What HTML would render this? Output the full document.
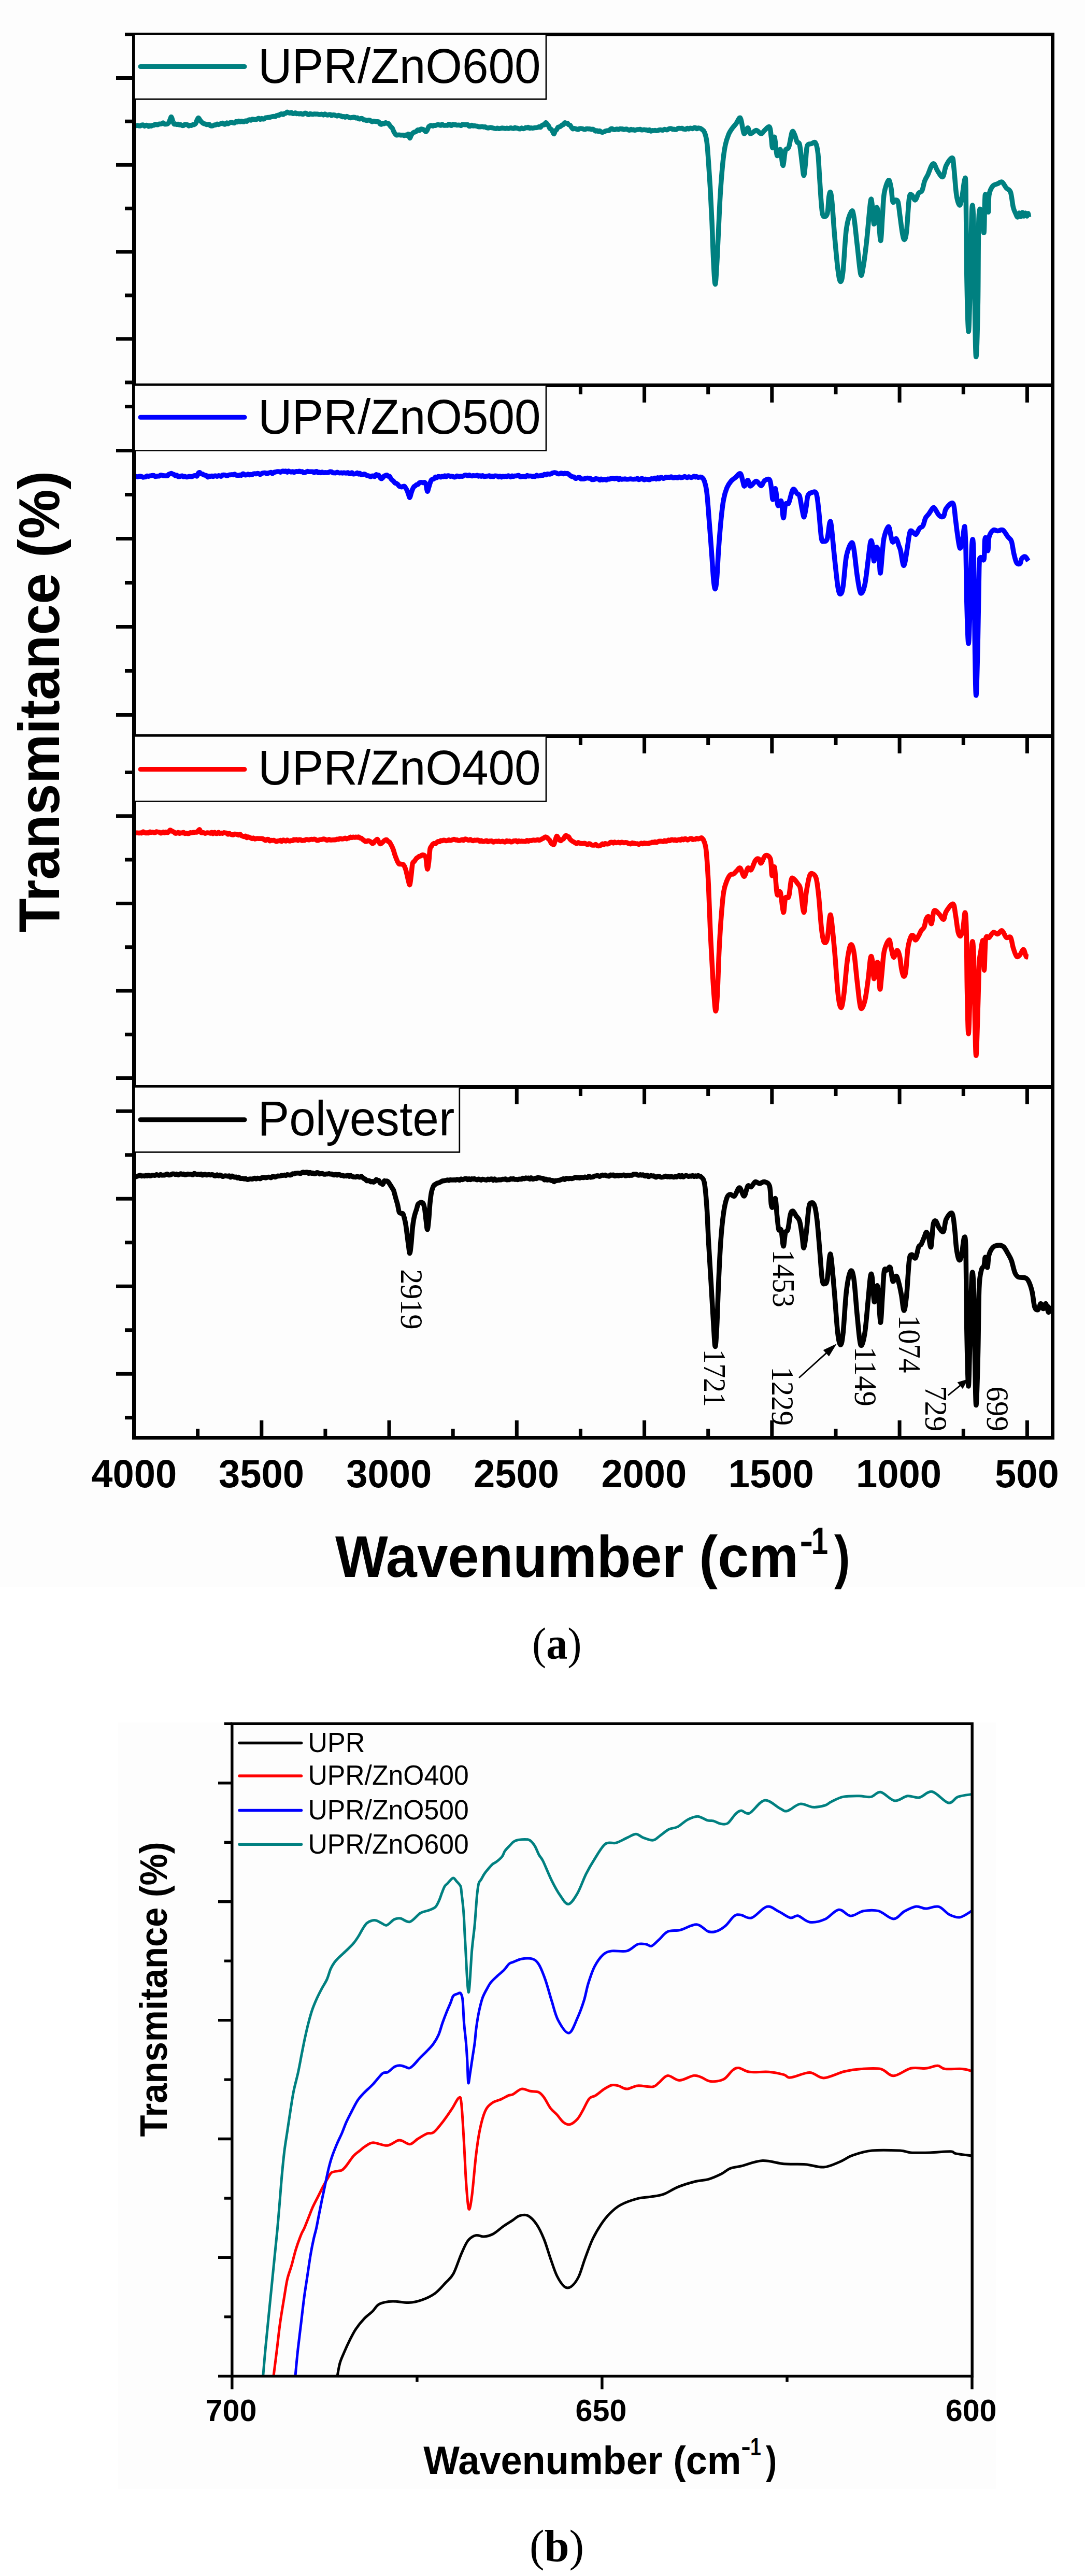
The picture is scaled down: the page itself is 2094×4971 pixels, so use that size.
<!DOCTYPE html>
<html><head><meta charset="utf-8"><title>FTIR spectra</title>
<style>html,body{margin:0;padding:0;background:#fff;}svg{display:block;}</style></head>
<body><svg width="2094" height="4971" viewBox="0 0 2094 4971">
<rect x="0" y="0" width="2094" height="3063" fill="#fdfdfd"/>
<rect x="228" y="3324" width="1694" height="1479" fill="#fdfdfd"/>
<g fill="none" stroke-linejoin="round" stroke-linecap="butt"><path d="M260.5,241.8 C260.9,241.9 262.2,242.6 263.1,242.6 C264.0,242.7 264.8,242.1 265.7,242.1 C266.6,242.2 267.4,242.7 268.3,242.8 C269.2,242.9 270.0,243.1 270.9,242.9 C271.8,242.6 272.6,241.6 273.5,241.3 C274.4,241.0 275.2,240.8 276.1,241.1 C277.0,241.5 277.8,243.3 278.7,243.4 C279.6,243.6 280.4,242.1 281.3,241.8 C282.2,241.5 283.0,241.4 283.9,241.8 C284.8,242.1 285.6,243.8 286.5,243.9 C287.4,244.0 288.2,242.5 289.1,242.4 C290.0,242.3 290.8,243.4 291.7,243.3 C292.6,243.2 293.4,242.0 294.3,241.8 C295.2,241.5 296.0,242.0 296.9,241.7 C297.8,241.4 298.6,240.0 299.5,239.8 C300.4,239.6 301.2,240.4 302.1,240.6 C303.0,240.8 303.8,241.0 304.7,240.7 C305.6,240.5 306.4,239.5 307.3,239.2 C308.2,239.0 309.0,239.4 309.9,239.3 C310.8,239.2 311.6,238.9 312.5,238.6 C313.4,238.2 314.2,237.0 315.1,237.1 C316.0,237.3 316.8,239.1 317.7,239.5 C318.6,239.9 319.4,239.5 320.3,239.5 C321.2,239.4 322.0,239.5 322.9,239.1 C323.8,238.7 324.6,238.4 325.5,237.1 C326.4,235.8 327.2,233.0 328.1,231.1 C329.0,229.2 329.8,225.4 330.7,225.7 C331.6,226.1 332.4,230.9 333.3,233.2 C334.2,235.4 335.0,238.2 335.9,239.2 C336.8,240.2 337.6,239.0 338.5,239.2 C339.4,239.4 340.2,240.3 341.1,240.4 C342.0,240.4 342.8,239.3 343.7,239.4 C344.6,239.5 345.4,240.9 346.3,241.1 C347.2,241.3 348.0,240.4 348.9,240.6 C349.8,240.8 350.6,242.0 351.5,242.3 C352.4,242.6 353.2,242.6 354.1,242.3 C355.0,241.9 355.8,240.5 356.7,240.2 C357.6,239.9 358.4,240.4 359.3,240.5 C360.2,240.6 361.0,240.4 361.9,240.8 C362.8,241.3 363.6,242.9 364.5,243.1 C365.4,243.2 366.2,241.9 367.1,241.7 C368.0,241.6 368.8,242.3 369.7,242.1 C370.6,241.9 371.4,240.8 372.3,240.6 C373.2,240.3 374.0,240.9 374.9,240.5 C375.8,240.2 376.6,239.9 377.5,238.5 C378.4,237.1 379.2,233.9 380.1,232.1 C381.0,230.3 381.8,227.8 382.7,227.6 C383.6,227.3 384.4,229.4 385.3,230.5 C386.2,231.7 387.0,233.3 387.9,234.4 C388.8,235.4 389.6,236.0 390.5,236.7 C391.4,237.4 392.2,238.0 393.1,238.4 C394.0,238.8 394.8,238.8 395.7,239.1 C396.6,239.4 397.4,240.1 398.3,240.3 C399.2,240.5 400.0,240.4 400.9,240.3 C401.8,240.2 402.6,239.4 403.5,239.8 C404.4,240.2 405.2,242.1 406.1,242.6 C407.0,243.2 407.8,243.1 408.7,243.1 C409.6,243.0 410.4,242.8 411.3,242.5 C412.2,242.1 413.0,241.3 413.9,241.1 C414.8,240.8 415.6,241.4 416.5,241.0 C417.4,240.7 418.2,239.3 419.1,239.2 C420.0,239.1 420.8,240.5 421.7,240.5 C422.6,240.5 423.4,239.7 424.3,239.3 C425.2,239.0 426.0,238.6 426.9,238.3 C427.8,238.0 428.6,237.3 429.5,237.5 C430.4,237.7 431.2,239.2 432.1,239.5 C433.0,239.9 433.8,240.2 434.7,239.7 C435.6,239.3 436.4,237.2 437.3,237.1 C438.2,236.9 439.0,238.8 439.9,238.9 C440.8,238.9 441.6,237.9 442.5,237.4 C443.4,237.0 444.2,236.5 445.1,236.3 C446.0,236.1 446.8,236.2 447.7,236.3 C448.6,236.5 449.4,237.1 450.3,237.2 C451.2,237.4 452.0,237.6 452.9,237.1 C453.8,236.7 454.6,234.7 455.5,234.4 C456.4,234.2 457.2,235.7 458.1,235.6 C459.0,235.5 459.8,233.7 460.7,233.6 C461.6,233.6 462.4,235.2 463.3,235.2 C464.2,235.2 465.0,233.8 465.9,233.8 C466.8,233.7 467.6,234.8 468.5,234.9 C469.4,235.1 470.2,235.2 471.1,234.9 C472.0,234.6 472.8,233.3 473.7,233.2 C474.6,233.1 475.4,234.5 476.3,234.3 C477.2,234.0 478.0,232.5 478.9,232.0 C479.8,231.4 480.6,231.0 481.5,231.0 C482.4,231.0 483.2,232.2 484.1,232.1 C485.0,231.9 485.8,230.4 486.7,230.1 C487.6,229.8 488.4,230.2 489.3,230.3 C490.2,230.3 491.0,230.4 491.9,230.5 C492.8,230.6 493.6,230.9 494.5,230.7 C495.4,230.5 496.2,229.5 497.1,229.1 C498.0,228.7 498.8,228.2 499.7,228.4 C500.6,228.6 501.4,230.4 502.3,230.4 C503.2,230.4 504.0,228.5 504.9,228.5 C505.8,228.4 506.6,229.8 507.5,229.9 C508.4,230.0 509.2,229.6 510.1,229.2 C511.0,228.7 511.8,227.6 512.7,227.2 C513.6,226.8 514.4,227.0 515.3,226.9 C516.2,226.8 517.0,226.6 517.9,226.5 C518.8,226.4 519.6,226.4 520.5,226.3 C521.4,226.2 522.2,225.8 523.1,225.6 C524.0,225.4 524.8,225.2 525.7,225.0 C526.6,224.8 527.4,224.6 528.3,224.6 C529.2,224.6 530.0,225.2 530.9,225.0 C531.8,224.7 532.6,223.7 533.5,223.2 C534.4,222.8 535.2,222.5 536.1,222.4 C537.0,222.2 537.8,222.8 538.7,222.5 C539.6,222.1 540.4,220.8 541.3,220.4 C542.2,219.9 543.0,219.7 543.9,219.8 C544.8,219.9 545.6,221.2 546.5,221.0 C547.4,220.9 548.2,219.5 549.1,219.0 C550.0,218.6 550.8,218.8 551.7,218.4 C552.6,217.9 553.4,216.4 554.3,216.3 C555.2,216.1 556.0,217.3 556.9,217.6 C557.8,218.0 558.6,218.4 559.5,218.3 C560.4,218.2 561.2,216.9 562.1,217.0 C563.0,217.1 563.8,218.5 564.7,218.9 C565.6,219.2 566.4,219.3 567.3,219.1 C568.2,219.0 569.0,217.7 569.9,217.8 C570.8,217.8 571.6,219.2 572.5,219.5 C573.4,219.7 574.2,219.1 575.1,219.1 C576.0,219.2 576.8,219.8 577.7,219.8 C578.6,219.8 579.4,219.0 580.3,219.0 C581.2,219.0 582.0,219.9 582.9,220.1 C583.8,220.3 584.6,220.6 585.5,220.3 C586.4,220.0 587.2,218.7 588.1,218.4 C589.0,218.1 589.8,218.3 590.7,218.6 C591.6,218.9 592.4,220.0 593.3,220.4 C594.2,220.9 595.0,221.5 595.9,221.3 C596.8,221.2 597.6,219.6 598.5,219.4 C599.4,219.2 600.2,219.9 601.1,220.1 C602.0,220.3 602.8,220.6 603.7,220.6 C604.6,220.6 605.4,220.0 606.3,219.9 C607.2,219.9 608.0,220.1 608.9,220.1 C609.8,220.2 610.6,220.1 611.5,220.1 C612.4,220.1 613.2,220.2 614.1,220.4 C615.0,220.5 615.8,221.1 616.7,221.1 C617.6,221.1 618.4,220.4 619.3,220.4 C620.2,220.3 621.0,220.4 621.9,220.7 C622.8,220.9 623.6,222.0 624.5,221.9 C625.4,221.8 626.2,220.0 627.1,219.9 C628.0,219.8 628.8,221.2 629.7,221.5 C630.6,221.9 631.4,222.2 632.3,222.1 C633.2,222.0 634.0,221.2 634.9,221.1 C635.8,220.9 636.6,220.8 637.5,221.1 C638.4,221.4 639.2,222.9 640.1,223.0 C641.0,223.1 641.8,221.9 642.7,221.8 C643.6,221.6 644.4,221.7 645.3,221.9 C646.2,222.1 647.0,222.6 647.9,222.9 C648.8,223.2 649.6,224.0 650.5,223.9 C651.4,223.9 652.2,222.6 653.1,222.6 C654.0,222.5 654.8,223.3 655.7,223.5 C656.6,223.7 657.4,223.5 658.3,223.8 C659.2,224.2 660.0,225.4 660.9,225.5 C661.8,225.7 662.6,224.6 663.5,224.7 C664.4,224.8 665.2,226.2 666.1,226.2 C667.0,226.2 667.8,224.7 668.7,224.6 C669.6,224.5 670.4,225.1 671.3,225.4 C672.2,225.7 673.0,226.2 673.9,226.6 C674.8,226.9 675.6,227.5 676.5,227.5 C677.4,227.6 678.2,226.9 679.1,226.6 C680.0,226.4 680.8,226.4 681.7,226.3 C682.6,226.3 683.4,226.1 684.3,226.3 C685.2,226.6 686.0,227.7 686.9,227.8 C687.8,227.9 688.6,226.9 689.5,227.2 C690.4,227.4 691.2,228.8 692.1,229.2 C693.0,229.6 693.8,229.8 694.7,229.6 C695.6,229.5 696.4,228.4 697.3,228.4 C698.2,228.3 699.0,228.8 699.9,229.3 C700.8,229.8 701.6,231.0 702.5,231.4 C703.4,231.7 704.2,231.3 705.1,231.5 C706.0,231.7 706.8,232.5 707.7,232.6 C708.6,232.7 709.4,232.1 710.3,232.0 C711.2,231.8 712.0,231.8 712.9,232.0 C713.8,232.2 714.6,232.6 715.5,233.1 C716.4,233.5 717.2,234.8 718.1,234.9 C719.0,235.0 719.8,233.8 720.7,233.7 C721.6,233.6 722.4,234.0 723.3,234.2 C724.2,234.3 725.0,234.5 725.9,234.6 C726.8,234.7 727.6,234.8 728.5,234.8 C729.4,234.9 730.2,234.4 731.1,235.2 C732.0,235.9 732.8,238.5 733.7,239.3 C734.6,240.1 735.4,240.2 736.3,239.9 C737.2,239.7 738.0,238.1 738.9,237.9 C739.8,237.7 740.6,238.9 741.5,238.7 C742.4,238.6 743.2,236.9 744.1,236.8 C745.0,236.7 745.8,237.8 746.7,238.0 C747.6,238.3 748.4,237.7 749.3,238.3 C750.2,238.9 751.0,240.4 751.9,241.5 C752.8,242.6 753.6,243.8 754.5,244.8 C755.4,245.8 756.2,245.9 757.1,247.3 C758.0,248.7 758.8,251.5 759.7,253.3 C760.6,255.0 761.4,256.8 762.3,258.0 C763.2,259.2 764.0,260.2 764.9,260.6 C765.8,261.0 766.6,260.6 767.5,260.5 C768.4,260.5 769.2,260.2 770.1,260.2 C771.0,260.3 771.8,260.6 772.7,260.7 C773.6,260.8 774.4,260.8 775.3,260.8 C776.2,260.8 777.0,260.5 777.9,260.7 C778.8,260.8 779.6,261.8 780.5,261.7 C781.4,261.7 782.2,260.5 783.1,260.4 C784.0,260.4 784.8,261.7 785.7,261.4 C786.6,261.2 787.4,258.0 788.3,258.8 C789.2,259.7 790.0,265.9 790.9,266.3 C791.8,266.7 792.6,262.7 793.5,261.3 C794.4,259.8 795.2,258.4 796.1,257.4 C797.0,256.4 797.8,255.8 798.7,255.3 C799.6,254.8 800.4,255.0 801.3,254.6 C802.2,254.2 803.0,253.6 803.9,252.9 C804.8,252.2 805.6,250.7 806.5,250.6 C807.4,250.4 808.2,252.0 809.1,251.9 C810.0,251.7 810.8,250.0 811.7,249.5 C812.6,249.0 813.4,249.1 814.3,249.1 C815.2,249.2 816.0,249.3 816.9,249.8 C817.8,250.3 818.6,251.4 819.5,252.1 C820.4,252.9 821.2,254.5 822.1,254.3 C823.0,254.0 823.8,252.3 824.7,250.7 C825.6,249.1 826.4,246.0 827.3,244.7 C828.2,243.4 829.0,243.2 829.9,242.8 C830.8,242.3 831.6,242.0 832.5,242.1 C833.4,242.2 834.2,243.4 835.1,243.3 C836.0,243.3 836.8,242.0 837.7,241.8 C838.6,241.7 839.4,242.4 840.3,242.3 C841.2,242.1 842.0,241.3 842.9,241.0 C843.8,240.7 844.6,240.4 845.5,240.4 C846.4,240.5 847.2,241.0 848.1,241.3 C849.0,241.5 849.8,242.2 850.7,242.0 C851.6,241.8 852.4,240.1 853.3,240.1 C854.2,240.0 855.0,241.4 855.9,241.7 C856.8,242.0 857.6,242.0 858.5,242.0 C859.4,242.0 860.2,241.8 861.1,241.7 C862.0,241.7 862.8,242.2 863.7,241.9 C864.6,241.5 865.4,239.7 866.3,239.6 C867.2,239.6 868.0,241.0 868.9,241.4 C869.8,241.9 870.6,242.4 871.5,242.2 C872.4,241.9 873.2,240.2 874.1,239.9 C875.0,239.7 875.8,240.5 876.7,240.6 C877.6,240.8 878.4,240.6 879.3,240.7 C880.2,240.8 881.0,241.4 881.9,241.5 C882.8,241.6 883.6,241.3 884.5,241.3 C885.4,241.3 886.2,241.3 887.1,241.5 C888.0,241.6 888.8,242.6 889.7,242.4 C890.6,242.2 891.4,240.6 892.3,240.3 C893.2,240.0 894.0,240.4 894.9,240.5 C895.8,240.6 896.6,240.7 897.5,240.8 C898.4,240.8 899.2,240.8 900.1,240.8 C901.0,240.8 901.8,240.3 902.7,240.7 C903.6,241.1 904.4,242.9 905.3,243.3 C906.2,243.8 907.0,243.6 907.9,243.3 C908.8,243.0 909.6,241.5 910.5,241.5 C911.4,241.4 912.2,242.8 913.1,243.0 C914.0,243.2 914.8,242.8 915.7,242.8 C916.6,242.8 917.4,243.0 918.3,243.1 C919.2,243.2 920.0,243.3 920.9,243.5 C921.8,243.8 922.6,244.5 923.5,244.7 C924.4,244.9 925.2,244.9 926.1,244.8 C927.0,244.8 927.8,244.6 928.7,244.5 C929.6,244.4 930.4,244.3 931.3,244.4 C932.2,244.5 933.0,245.0 933.9,245.1 C934.8,245.1 935.6,244.6 936.5,244.8 C937.4,245.0 938.2,246.0 939.1,246.4 C940.0,246.7 940.8,247.1 941.7,247.1 C942.6,247.1 943.4,246.7 944.3,246.5 C945.2,246.3 946.0,246.0 946.9,246.0 C947.8,246.0 948.6,246.4 949.5,246.6 C950.4,246.8 951.2,246.9 952.1,247.1 C953.0,247.3 953.8,247.6 954.7,247.8 C955.6,248.0 956.4,248.4 957.3,248.3 C958.2,248.2 959.0,247.2 959.9,247.2 C960.8,247.2 961.6,248.2 962.5,248.3 C963.4,248.5 964.2,248.0 965.1,247.8 C966.0,247.7 966.8,247.4 967.7,247.3 C968.6,247.2 969.4,247.1 970.3,247.1 C971.2,247.2 972.0,247.3 972.9,247.5 C973.8,247.6 974.6,248.1 975.5,248.1 C976.4,248.0 977.2,247.3 978.1,247.3 C979.0,247.3 979.8,248.0 980.7,248.0 C981.6,248.1 982.4,247.6 983.3,247.4 C984.2,247.2 985.0,246.8 985.9,246.8 C986.8,246.8 987.6,247.4 988.5,247.6 C989.4,247.8 990.2,248.3 991.1,248.0 C992.0,247.8 992.8,246.4 993.7,246.3 C994.6,246.2 995.4,247.1 996.3,247.3 C997.2,247.5 998.0,247.1 998.9,247.3 C999.8,247.5 1000.6,248.3 1001.5,248.6 C1002.4,248.8 1003.2,249.0 1004.1,248.7 C1005.0,248.5 1005.8,247.1 1006.7,247.0 C1007.6,247.0 1008.4,248.2 1009.3,248.4 C1010.2,248.5 1011.0,248.3 1011.9,247.9 C1012.8,247.6 1013.6,246.5 1014.5,246.3 C1015.4,246.1 1016.2,246.8 1017.1,246.7 C1018.0,246.6 1018.8,245.5 1019.7,245.6 C1020.6,245.7 1021.4,247.2 1022.3,247.4 C1023.2,247.6 1024.0,246.8 1024.9,246.8 C1025.8,246.8 1026.6,247.3 1027.5,247.3 C1028.4,247.3 1029.2,247.0 1030.1,246.9 C1031.0,246.7 1031.8,246.5 1032.7,246.4 C1033.6,246.3 1034.4,246.5 1035.3,246.4 C1036.2,246.3 1037.0,246.1 1037.9,245.8 C1038.8,245.5 1039.6,244.4 1040.5,244.4 C1041.4,244.3 1042.2,245.9 1043.1,245.6 C1044.0,245.2 1044.8,243.2 1045.7,242.4 C1046.6,241.6 1047.4,241.1 1048.3,240.8 C1049.2,240.6 1050.0,241.4 1050.9,240.7 C1051.8,240.0 1052.6,236.9 1053.5,236.7 C1054.4,236.6 1055.2,238.8 1056.1,239.9 C1057.0,240.9 1057.8,241.5 1058.7,242.9 C1059.6,244.3 1060.4,247.0 1061.3,248.1 C1062.2,249.2 1063.0,248.7 1063.9,249.7 C1064.8,250.6 1065.6,252.2 1066.5,253.7 C1067.4,255.2 1068.2,258.7 1069.1,258.5 C1070.0,258.3 1070.8,253.7 1071.7,252.4 C1072.6,251.0 1073.4,251.3 1074.3,250.2 C1075.2,249.1 1076.0,246.6 1076.9,245.7 C1077.8,244.8 1078.6,245.1 1079.5,244.8 C1080.4,244.5 1081.2,244.3 1082.1,243.7 C1083.0,243.1 1083.8,241.8 1084.7,241.3 C1085.6,240.7 1086.4,241.2 1087.3,240.5 C1088.2,239.8 1089.0,237.5 1089.9,237.0 C1090.8,236.5 1091.6,237.5 1092.5,237.6 C1093.4,237.8 1094.2,237.4 1095.1,238.0 C1096.0,238.5 1096.8,240.3 1097.7,240.9 C1098.6,241.5 1099.4,240.8 1100.3,241.6 C1101.2,242.4 1102.0,244.6 1102.9,245.8 C1103.8,246.9 1104.6,248.3 1105.5,248.7 C1106.4,249.0 1107.2,247.8 1108.1,247.8 C1109.0,247.7 1109.8,248.3 1110.7,248.5 C1111.6,248.7 1112.4,248.9 1113.3,249.2 C1114.2,249.4 1115.0,250.1 1115.9,249.9 C1116.8,249.8 1117.6,248.6 1118.5,248.3 C1119.4,248.0 1120.2,248.1 1121.1,248.1 C1122.0,248.1 1122.8,248.1 1123.7,248.3 C1124.6,248.5 1125.4,249.1 1126.3,249.3 C1127.2,249.6 1128.0,249.8 1128.9,249.7 C1129.8,249.6 1130.6,248.9 1131.5,248.7 C1132.4,248.5 1133.2,248.6 1134.1,248.6 C1135.0,248.6 1135.8,248.7 1136.7,248.7 C1137.6,248.8 1138.4,248.8 1139.3,249.0 C1140.2,249.1 1141.0,249.7 1141.9,249.8 C1142.8,249.8 1143.6,249.2 1144.5,249.4 C1145.4,249.6 1146.2,250.6 1147.1,251.2 C1148.0,251.8 1148.8,252.9 1149.7,253.1 C1150.6,253.3 1151.4,252.0 1152.3,252.1 C1153.2,252.2 1154.0,253.6 1154.9,253.7 C1155.8,253.7 1156.6,252.4 1157.5,252.6 C1158.4,252.8 1159.2,254.2 1160.1,254.7 C1161.0,255.1 1161.8,255.4 1162.7,255.4 C1163.6,255.3 1164.4,254.7 1165.3,254.4 C1166.2,254.0 1167.0,253.5 1167.9,253.2 C1168.8,252.8 1169.6,252.5 1170.5,252.3 C1171.4,252.1 1172.2,252.0 1173.1,252.0 C1174.0,251.9 1174.8,252.4 1175.7,251.9 C1176.6,251.4 1177.4,249.7 1178.3,249.1 C1179.2,248.4 1180.0,248.1 1180.9,248.2 C1181.8,248.3 1182.6,249.4 1183.5,249.7 C1184.4,250.1 1185.2,250.4 1186.1,250.3 C1187.0,250.2 1187.8,249.5 1188.7,249.3 C1189.6,249.1 1190.4,249.0 1191.3,249.1 C1192.2,249.3 1193.0,250.1 1193.9,250.0 C1194.8,249.9 1195.6,248.8 1196.5,248.6 C1197.4,248.4 1198.2,248.9 1199.1,248.9 C1200.0,248.9 1200.8,248.6 1201.7,248.8 C1202.6,249.0 1203.4,249.9 1204.3,250.0 C1205.2,250.1 1206.0,249.4 1206.9,249.3 C1207.8,249.2 1208.6,248.9 1209.5,249.1 C1210.4,249.4 1211.2,250.2 1212.1,250.5 C1213.0,250.9 1213.8,251.5 1214.7,251.3 C1215.6,251.2 1216.4,249.7 1217.3,249.6 C1218.2,249.5 1219.0,250.7 1219.9,250.8 C1220.8,250.9 1221.6,250.0 1222.5,250.1 C1223.4,250.2 1224.2,251.3 1225.1,251.4 C1226.0,251.5 1226.8,251.0 1227.7,250.7 C1228.6,250.5 1229.4,250.1 1230.3,249.9 C1231.2,249.8 1232.0,250.0 1232.9,249.9 C1233.8,249.8 1234.6,249.3 1235.5,249.4 C1236.4,249.6 1237.2,250.6 1238.1,250.8 C1239.0,251.0 1239.8,250.7 1240.7,250.6 C1241.6,250.5 1242.4,250.2 1243.3,250.2 C1244.2,250.2 1245.0,250.7 1245.9,250.8 C1246.8,251.0 1247.6,250.6 1248.5,250.9 C1249.4,251.1 1250.2,252.3 1251.1,252.3 C1252.0,252.2 1252.8,250.5 1253.7,250.6 C1254.6,250.8 1255.4,252.9 1256.3,253.1 C1257.2,253.3 1258.0,252.0 1258.9,251.8 C1259.8,251.6 1260.6,252.1 1261.5,252.0 C1262.4,251.9 1263.2,251.4 1264.1,251.4 C1265.0,251.4 1265.8,252.1 1266.7,252.2 C1267.6,252.3 1268.4,252.1 1269.3,251.9 C1270.2,251.7 1271.0,251.2 1271.9,251.0 C1272.8,250.7 1273.6,250.5 1274.5,250.5 C1275.4,250.5 1276.2,250.9 1277.1,251.0 C1278.0,251.1 1278.8,251.3 1279.7,251.1 C1280.6,250.9 1281.4,249.7 1282.3,249.6 C1283.2,249.5 1284.0,250.1 1284.9,250.3 C1285.8,250.5 1286.6,250.9 1287.5,250.7 C1288.4,250.5 1289.2,249.5 1290.1,249.1 C1291.0,248.7 1291.8,248.4 1292.7,248.2 C1293.6,248.1 1294.4,248.0 1295.3,248.2 C1296.2,248.4 1297.0,249.3 1297.9,249.5 C1298.8,249.6 1299.6,249.2 1300.5,249.3 C1301.4,249.4 1302.2,249.9 1303.1,250.0 C1304.0,250.1 1304.8,250.0 1305.7,249.6 C1306.6,249.3 1307.4,248.2 1308.3,247.8 C1309.2,247.5 1310.0,247.6 1310.9,247.6 C1311.8,247.6 1312.6,247.8 1313.5,247.7 C1314.4,247.7 1315.2,247.3 1316.1,247.5 C1317.0,247.7 1317.8,248.6 1318.7,248.9 C1319.6,249.1 1320.4,249.1 1321.3,249.2 C1322.2,249.3 1323.0,249.6 1323.9,249.3 C1324.8,249.0 1325.6,247.4 1326.5,247.4 C1327.4,247.3 1328.2,249.0 1329.1,249.0 C1330.0,249.0 1330.8,247.6 1331.7,247.4 C1332.6,247.2 1333.4,247.5 1334.3,247.6 C1335.2,247.8 1336.0,248.6 1336.9,248.4 C1337.8,248.2 1338.6,246.9 1339.5,246.6 C1340.4,246.2 1341.2,246.2 1342.1,246.6 C1343.0,246.9 1343.8,248.5 1344.7,248.6 C1345.6,248.7 1346.4,247.3 1347.3,247.1 C1348.2,246.9 1349.0,247.1 1349.9,247.3 C1350.8,247.5 1351.3,247.1 1352.9,248.4 C1354.5,249.7 1357.5,250.5 1359.4,254.8 C1361.3,259.1 1362.9,264.5 1364.2,274.2 C1365.5,283.9 1366.3,298.4 1367.4,312.9 C1368.5,327.4 1369.5,342.5 1370.6,361.3 C1371.7,380.1 1372.8,401.6 1373.9,425.8 C1375.0,450.0 1376.0,486.1 1377.1,506.5 C1378.2,526.9 1379.2,547.9 1380.3,548.4 C1381.4,548.9 1382.4,527.5 1383.5,509.7 C1384.6,491.9 1385.7,463.9 1386.8,441.9 C1387.9,419.8 1388.7,398.4 1390.0,377.4 C1391.3,356.4 1393.2,332.2 1394.8,316.1 C1396.4,300.0 1397.8,290.0 1399.7,280.6 C1401.6,271.2 1403.9,265.1 1406.1,259.7 C1408.2,254.3 1410.2,251.9 1412.6,248.4 C1415.0,244.9 1417.9,242.2 1420.6,238.7 C1423.3,235.2 1426.5,225.8 1428.7,227.4 C1430.9,229.0 1432.2,243.3 1433.5,248.4 C1434.8,253.5 1435.2,258.4 1436.8,258.1 C1438.4,257.8 1441.3,246.8 1443.2,246.8 C1445.1,246.8 1445.4,257.3 1448.1,258.1 C1450.8,258.9 1455.9,251.6 1459.4,251.6 C1462.9,251.6 1466.3,258.1 1469.0,258.1 C1471.7,258.1 1472.8,253.8 1475.5,251.6 C1478.2,249.4 1483.0,243.0 1485.2,245.2 C1487.4,247.3 1487.4,257.8 1488.4,264.5 C1489.4,271.2 1489.9,285.5 1491.0,285.5 C1492.1,285.5 1493.3,262.1 1494.8,264.5 C1496.2,266.9 1497.8,296.0 1499.7,300.0 C1501.6,304.0 1504.2,285.5 1506.1,288.7 C1508.0,291.9 1509.4,319.1 1511.0,319.4 C1512.6,319.7 1513.9,296.2 1515.8,290.3 C1517.7,284.4 1520.1,289.8 1522.3,283.9 C1524.5,278.0 1526.8,258.8 1528.7,254.8 C1530.6,250.8 1531.9,256.5 1533.5,259.7 C1535.1,262.9 1536.8,271.0 1538.4,274.2 C1540.0,277.4 1541.6,272.0 1543.2,279.0 C1544.8,286.0 1546.8,306.2 1548.1,316.1 C1549.4,326.1 1550.2,338.7 1551.3,338.7 C1552.4,338.7 1553.4,325.5 1554.5,316.1 C1555.6,306.7 1555.8,288.8 1557.7,282.3 C1559.6,275.9 1563.1,278.5 1565.8,277.4 C1568.5,276.3 1571.8,272.6 1573.9,275.8 C1576.1,279.0 1577.4,285.2 1578.7,296.8 C1580.0,308.4 1580.8,329.1 1581.9,345.2 C1583.0,361.3 1584.1,381.7 1585.2,393.5 C1586.3,405.3 1586.5,412.9 1588.4,416.1 C1590.3,419.3 1594.6,418.8 1596.5,412.9 C1598.4,407.0 1598.6,387.6 1599.7,380.6 C1600.8,373.6 1601.8,368.9 1602.9,371.0 C1604.0,373.1 1604.8,379.0 1606.1,393.5 C1607.4,408.0 1609.1,436.5 1611.0,458.0 C1612.9,479.5 1615.5,508.4 1617.4,522.6 C1619.3,536.9 1620.7,543.5 1622.3,543.5 C1623.9,543.5 1625.2,539.5 1627.1,522.6 C1629.0,505.7 1630.8,461.0 1633.5,441.9 C1636.2,422.8 1640.8,411.9 1643.2,408.1 C1645.6,404.4 1646.2,408.4 1648.1,419.4 C1650.0,430.4 1652.3,455.9 1654.5,474.2 C1656.7,492.5 1659.1,522.0 1661.0,529.0 C1662.9,536.0 1663.9,526.3 1665.8,516.1 C1667.7,505.9 1669.9,488.8 1672.3,467.7 C1674.7,446.6 1678.2,401.3 1680.0,389.4 C1681.8,377.4 1682.2,388.8 1683.3,396.0 C1684.4,403.2 1685.5,430.8 1686.6,432.5 C1687.7,434.2 1688.9,411.0 1690.0,406.0 C1691.1,401.0 1692.2,397.6 1693.3,402.6 C1694.4,407.6 1695.5,425.6 1696.6,435.8 C1697.7,446.0 1698.8,467.3 1699.9,464.0 C1701.0,460.7 1702.1,431.1 1703.2,415.9 C1704.3,400.7 1704.6,384.1 1706.5,372.8 C1708.4,361.5 1712.6,349.6 1714.8,347.9 C1717.0,346.2 1718.4,355.9 1719.8,362.8 C1721.2,369.7 1721.7,385.5 1723.1,389.4 C1724.5,393.3 1726.4,386.0 1728.1,386.0 C1729.8,386.0 1731.7,385.0 1733.1,389.4 C1734.5,393.8 1735.0,402.7 1736.4,412.6 C1737.8,422.6 1739.9,440.8 1741.4,449.1 C1742.9,457.4 1744.0,462.9 1745.4,462.3 C1746.8,461.8 1748.2,459.1 1749.7,445.8 C1751.2,432.5 1753.1,394.3 1754.7,382.7 C1756.3,371.1 1757.7,375.6 1759.6,376.1 C1761.5,376.7 1764.1,386.6 1766.3,386.0 C1768.5,385.4 1770.7,375.8 1772.9,372.8 C1775.1,369.8 1777.6,371.7 1779.5,367.8 C1781.4,363.9 1782.6,354.8 1784.5,349.5 C1786.4,344.2 1788.9,341.3 1791.1,336.3 C1793.3,331.3 1795.8,323.0 1797.8,319.7 C1799.8,316.4 1800.9,314.8 1802.8,316.4 C1804.7,318.0 1806.6,325.5 1809.4,329.6 C1812.2,333.7 1816.6,342.9 1819.4,341.2 C1822.2,339.5 1823.0,325.8 1826.0,319.7 C1829.0,313.6 1835.1,304.1 1837.6,304.7 C1840.1,305.2 1839.5,311.1 1840.9,323.0 C1842.3,334.9 1844.1,363.9 1845.9,376.1 C1847.7,388.3 1850.1,395.4 1851.9,396.0 C1853.7,396.6 1855.2,387.7 1856.8,379.4 C1858.4,371.1 1860.6,348.4 1861.8,346.2 C1863.0,344.0 1863.4,335.1 1864.1,366.1 C1864.8,397.1 1865.0,486.4 1865.8,532.0 C1866.6,577.6 1868.0,637.0 1869.1,639.8 C1870.2,642.6 1871.3,587.9 1872.4,548.6 C1873.5,509.4 1874.7,423.1 1875.8,404.3 C1876.9,385.5 1878.1,400.7 1879.1,435.8 C1880.1,470.9 1880.9,573.0 1881.7,615.0 C1882.5,657.0 1883.0,693.5 1884.0,688.0 C1885.0,682.5 1886.6,626.0 1887.4,581.8 C1888.2,537.5 1887.9,451.2 1889.0,422.5 C1890.1,393.8 1892.3,404.9 1894.0,409.3 C1895.7,413.7 1897.9,452.4 1899.0,449.1 C1900.1,445.8 1900.0,401.6 1900.6,389.4 C1901.1,377.2 1901.2,372.8 1902.3,376.1 C1903.4,379.4 1906.2,409.3 1907.3,409.3 C1908.4,409.3 1907.5,384.4 1908.9,376.1 C1910.3,367.8 1912.8,363.1 1915.6,359.5 C1918.4,355.9 1922.5,355.9 1925.5,354.5 C1928.5,353.1 1931.0,349.8 1933.8,351.2 C1936.6,352.6 1939.3,359.5 1942.1,362.8 C1944.9,366.1 1948.2,364.9 1950.4,371.1 C1952.6,377.3 1953.8,393.0 1955.5,400.0 C1957.2,407.0 1959.2,409.8 1960.6,413.0 C1962.0,416.2 1962.9,419.3 1964.0,419.0 C1965.1,418.7 1966.0,411.2 1967.0,411.0 C1968.0,410.8 1969.0,418.2 1970.0,418.0 C1971.0,417.8 1972.0,410.2 1973.0,410.0 C1974.0,409.8 1975.0,416.8 1976.0,417.0 C1977.0,417.2 1978.0,411.0 1979.0,411.0 C1980.0,411.0 1981.1,416.8 1982.0,417.0 C1982.9,417.2 1983.9,411.7 1984.5,412.0 C1985.1,412.3 1985.3,417.8 1985.5,419.0" stroke="#008080" stroke-width="9.5"/>
<path d="M260.5,920.1 C260.9,920.0 262.2,919.5 263.1,919.5 C264.0,919.5 264.8,920.2 265.7,920.2 C266.6,920.1 267.4,919.5 268.3,919.3 C269.2,919.1 270.0,918.9 270.9,918.9 C271.8,919.0 272.6,919.3 273.5,919.7 C274.4,920.0 275.2,920.8 276.1,921.0 C277.0,921.1 277.8,920.6 278.7,920.5 C279.6,920.3 280.4,920.5 281.3,920.2 C282.2,919.9 283.0,918.7 283.9,918.5 C284.8,918.3 285.6,919.2 286.5,919.2 C287.4,919.2 288.2,918.5 289.1,918.3 C290.0,918.1 290.8,918.0 291.7,917.9 C292.6,917.7 293.4,917.5 294.3,917.5 C295.2,917.5 296.0,917.3 296.9,917.6 C297.8,918.0 298.6,919.2 299.5,919.5 C300.4,919.7 301.2,919.1 302.1,919.0 C303.0,918.9 303.8,918.9 304.7,918.8 C305.6,918.8 306.4,919.0 307.3,918.7 C308.2,918.4 309.0,917.1 309.9,916.9 C310.8,916.6 311.6,916.9 312.5,917.1 C313.4,917.2 314.2,917.7 315.1,917.8 C316.0,918.0 316.8,917.9 317.7,918.0 C318.6,918.1 319.4,918.2 320.3,918.2 C321.2,918.2 322.0,918.6 322.9,918.2 C323.8,917.7 324.6,916.0 325.5,915.4 C326.4,914.8 327.2,914.8 328.1,914.4 C329.0,914.1 329.8,913.5 330.7,913.5 C331.6,913.6 332.4,914.5 333.3,914.8 C334.2,915.2 335.0,915.1 335.9,915.6 C336.8,916.2 337.6,917.8 338.5,918.0 C339.4,918.3 340.2,916.8 341.1,917.1 C342.0,917.4 342.8,919.2 343.7,919.6 C344.6,920.0 345.4,919.7 346.3,919.5 C347.2,919.4 348.0,919.0 348.9,918.8 C349.8,918.6 350.6,918.0 351.5,918.2 C352.4,918.5 353.2,919.9 354.1,920.1 C355.0,920.3 355.8,919.2 356.7,919.3 C357.6,919.3 358.4,920.1 359.3,920.3 C360.2,920.5 361.0,920.5 361.9,920.3 C362.8,920.2 363.6,919.7 364.5,919.5 C365.4,919.4 366.2,919.3 367.1,919.4 C368.0,919.4 368.8,919.9 369.7,919.8 C370.6,919.7 371.4,919.3 372.3,919.0 C373.2,918.6 374.0,918.0 374.9,917.8 C375.8,917.6 376.6,917.7 377.5,917.8 C378.4,918.0 379.2,919.5 380.1,918.7 C381.0,918.0 381.8,914.3 382.7,913.1 C383.6,911.9 384.4,911.5 385.3,911.7 C386.2,911.9 387.0,913.9 387.9,914.4 C388.8,914.9 389.6,914.2 390.5,914.5 C391.4,914.8 392.2,915.8 393.1,916.3 C394.0,916.7 394.8,916.9 395.7,917.1 C396.6,917.4 397.4,917.2 398.3,917.8 C399.2,918.4 400.0,920.6 400.9,920.7 C401.8,920.9 402.6,919.0 403.5,918.7 C404.4,918.5 405.2,919.2 406.1,919.2 C407.0,919.1 407.8,918.4 408.7,918.4 C409.6,918.5 410.4,919.5 411.3,919.4 C412.2,919.4 413.0,918.5 413.9,918.3 C414.8,918.1 415.6,918.2 416.5,918.3 C417.4,918.5 418.2,919.3 419.1,919.2 C420.0,919.2 420.8,918.0 421.7,917.9 C422.6,917.7 423.4,918.2 424.3,918.4 C425.2,918.6 426.0,919.4 426.9,919.2 C427.8,918.9 428.6,917.2 429.5,916.7 C430.4,916.3 431.2,916.5 432.1,916.5 C433.0,916.5 433.8,916.5 434.7,916.8 C435.6,917.0 436.4,918.0 437.3,918.1 C438.2,918.2 439.0,917.8 439.9,917.5 C440.8,917.2 441.6,916.5 442.5,916.3 C443.4,916.1 444.2,916.4 445.1,916.4 C446.0,916.3 446.8,915.8 447.7,915.8 C448.6,915.8 449.4,916.5 450.3,916.4 C451.2,916.3 452.0,915.0 452.9,915.1 C453.8,915.1 454.6,916.4 455.5,916.8 C456.4,917.2 457.2,917.2 458.1,917.3 C459.0,917.3 459.8,917.4 460.7,917.3 C461.6,917.2 462.4,916.6 463.3,916.6 C464.2,916.6 465.0,917.5 465.9,917.1 C466.8,916.7 467.6,914.7 468.5,914.4 C469.4,914.0 470.2,914.6 471.1,915.0 C472.0,915.4 472.8,916.6 473.7,916.8 C474.6,917.0 475.4,916.5 476.3,916.2 C477.2,915.9 478.0,915.0 478.9,915.1 C479.8,915.1 480.6,916.4 481.5,916.5 C482.4,916.5 483.2,915.5 484.1,915.4 C485.0,915.4 485.8,916.1 486.7,915.9 C487.6,915.7 488.4,914.6 489.3,914.3 C490.2,914.0 491.0,913.9 491.9,913.9 C492.8,914.0 493.6,914.6 494.5,914.5 C495.4,914.5 496.2,913.6 497.1,913.6 C498.0,913.5 498.8,913.8 499.7,914.2 C500.6,914.5 501.4,915.7 502.3,915.7 C503.2,915.6 504.0,914.3 504.9,913.8 C505.8,913.3 506.6,913.0 507.5,912.8 C508.4,912.6 509.2,912.6 510.1,912.6 C511.0,912.6 511.8,912.4 512.7,912.7 C513.6,913.0 514.4,914.2 515.3,914.2 C516.2,914.2 517.0,913.0 517.9,912.7 C518.8,912.4 519.6,912.5 520.5,912.3 C521.4,912.0 522.2,911.2 523.1,911.5 C524.0,911.7 524.8,913.6 525.7,913.7 C526.6,913.7 527.4,912.3 528.3,911.9 C529.2,911.4 530.0,911.2 530.9,911.0 C531.8,910.7 532.6,910.5 533.5,910.3 C534.4,910.2 535.2,910.1 536.1,910.0 C537.0,910.0 537.8,909.9 538.7,910.1 C539.6,910.3 540.4,911.4 541.3,911.3 C542.2,911.2 543.0,909.9 543.9,909.5 C544.8,909.2 545.6,908.9 546.5,909.0 C547.4,909.0 548.2,909.9 549.1,910.0 C550.0,910.0 550.8,908.9 551.7,909.1 C552.6,909.3 553.4,911.3 554.3,911.3 C555.2,911.2 556.0,909.1 556.9,908.9 C557.8,908.7 558.6,909.8 559.5,910.1 C560.4,910.4 561.2,910.9 562.1,910.9 C563.0,910.8 563.8,909.8 564.7,909.9 C565.6,910.1 566.4,911.6 567.3,911.6 C568.2,911.7 569.0,910.6 569.9,910.3 C570.8,909.9 571.6,909.7 572.5,909.7 C573.4,909.7 574.2,910.3 575.1,910.2 C576.0,910.2 576.8,909.2 577.7,909.3 C578.6,909.3 579.4,910.3 580.3,910.4 C581.2,910.5 582.0,909.8 582.9,910.0 C583.8,910.2 584.6,911.6 585.5,911.9 C586.4,912.2 587.2,911.9 588.1,911.8 C589.0,911.6 589.8,911.3 590.7,910.9 C591.6,910.5 592.4,909.7 593.3,909.6 C594.2,909.5 595.0,910.2 595.9,910.3 C596.8,910.4 597.6,910.3 598.5,910.3 C599.4,910.2 600.2,910.2 601.1,910.2 C602.0,910.2 602.8,910.0 603.7,910.3 C604.6,910.6 605.4,912.1 606.3,912.1 C607.2,912.0 608.0,910.4 608.9,910.1 C609.8,909.7 610.6,909.5 611.5,909.8 C612.4,910.2 613.2,912.1 614.1,912.3 C615.0,912.6 615.8,911.3 616.7,911.3 C617.6,911.4 618.4,912.6 619.3,912.5 C620.2,912.5 621.0,911.0 621.9,910.9 C622.8,910.9 623.6,912.2 624.5,912.3 C625.4,912.5 626.2,911.7 627.1,911.7 C628.0,911.6 628.8,912.0 629.7,912.1 C630.6,912.1 631.4,912.1 632.3,912.0 C633.2,911.8 634.0,911.6 634.9,911.3 C635.8,911.0 636.6,910.3 637.5,910.2 C638.4,910.1 639.2,910.2 640.1,910.5 C641.0,910.9 641.8,912.1 642.7,912.4 C643.6,912.8 644.4,912.5 645.3,912.5 C646.2,912.6 647.0,912.9 647.9,912.7 C648.8,912.5 649.6,911.2 650.5,911.2 C651.4,911.1 652.2,911.9 653.1,912.2 C654.0,912.4 654.8,912.6 655.7,912.7 C656.6,912.7 657.4,912.3 658.3,912.3 C659.2,912.4 660.0,912.9 660.9,912.9 C661.8,912.9 662.6,912.3 663.5,912.2 C664.4,912.2 665.2,912.6 666.1,912.7 C667.0,912.8 667.8,913.1 668.7,912.9 C669.6,912.8 670.4,911.8 671.3,911.9 C672.2,912.1 673.0,913.5 673.9,913.9 C674.8,914.3 675.6,914.5 676.5,914.2 C677.4,913.8 678.2,911.8 679.1,911.9 C680.0,911.9 680.8,914.1 681.7,914.5 C682.6,915.0 683.4,914.7 684.3,914.6 C685.2,914.5 686.0,914.3 686.9,914.0 C687.8,913.6 688.6,912.2 689.5,912.4 C690.4,912.5 691.2,914.8 692.1,914.9 C693.0,915.1 693.8,913.1 694.7,913.3 C695.6,913.5 696.4,915.8 697.3,916.2 C698.2,916.6 699.0,916.1 699.9,915.9 C700.8,915.7 701.6,914.8 702.5,914.7 C703.4,914.7 704.2,915.1 705.1,915.6 C706.0,916.0 706.8,917.1 707.7,917.5 C708.6,917.8 709.4,917.6 710.3,917.8 C711.2,918.1 712.0,918.5 712.9,918.9 C713.8,919.2 714.6,920.0 715.5,919.9 C716.4,919.9 717.2,918.7 718.1,918.5 C719.0,918.2 719.8,918.2 720.7,918.4 C721.6,918.6 722.4,920.1 723.3,919.6 C724.2,919.2 725.0,916.3 725.9,915.8 C726.8,915.4 727.6,916.7 728.5,917.0 C729.4,917.2 730.2,916.4 731.1,917.3 C732.0,918.1 732.8,920.9 733.7,921.9 C734.6,923.0 735.4,923.7 736.3,923.7 C737.2,923.6 738.0,922.6 738.9,921.7 C739.8,920.9 740.6,919.3 741.5,918.6 C742.4,917.9 743.2,917.9 744.1,917.5 C745.0,917.2 745.8,916.5 746.7,916.7 C747.6,917.0 748.4,918.7 749.3,919.1 C750.2,919.6 751.0,918.5 751.9,919.3 C752.8,920.1 753.6,922.6 754.5,923.8 C755.4,925.1 756.2,925.8 757.1,926.6 C758.0,927.4 758.8,927.9 759.7,928.8 C760.6,929.7 761.4,931.3 762.3,932.0 C763.2,932.7 764.0,932.4 764.9,932.8 C765.8,933.2 766.6,933.7 767.5,934.6 C768.4,935.4 769.2,937.2 770.1,937.9 C771.0,938.6 771.8,938.7 772.7,939.0 C773.6,939.3 774.4,939.8 775.3,939.7 C776.2,939.6 777.0,938.8 777.9,938.6 C778.8,938.4 779.6,937.8 780.5,938.4 C781.4,938.9 782.2,940.7 783.1,942.0 C784.0,943.4 784.8,944.6 785.7,946.6 C786.6,948.5 787.4,951.5 788.3,953.7 C789.2,956.0 790.0,960.5 790.9,960.1 C791.8,959.8 792.6,954.3 793.5,951.7 C794.4,949.1 795.2,946.5 796.1,944.4 C797.0,942.3 797.8,940.5 798.7,939.4 C799.6,938.2 800.4,938.3 801.3,937.7 C802.2,937.0 803.0,935.8 803.9,935.4 C804.8,934.9 805.6,935.5 806.5,934.9 C807.4,934.3 808.2,932.6 809.1,931.9 C810.0,931.2 810.8,931.0 811.7,930.8 C812.6,930.6 813.4,930.7 814.3,930.9 C815.2,931.0 816.0,931.6 816.9,931.6 C817.8,931.5 818.6,930.3 819.5,930.8 C820.4,931.3 821.2,931.5 822.1,934.4 C823.0,937.3 823.8,947.0 824.7,948.1 C825.6,949.3 826.4,943.9 827.3,941.3 C828.2,938.7 829.0,935.3 829.9,932.7 C830.8,930.2 831.6,927.5 832.5,926.2 C833.4,924.9 834.2,925.4 835.1,925.0 C836.0,924.6 836.8,924.4 837.7,923.7 C838.6,922.9 839.4,920.9 840.3,920.6 C841.2,920.3 842.0,922.0 842.9,921.9 C843.8,921.7 844.6,920.0 845.5,919.6 C846.4,919.3 847.2,919.4 848.1,919.6 C849.0,919.8 849.8,920.8 850.7,920.8 C851.6,920.7 852.4,919.4 853.3,919.3 C854.2,919.1 855.0,920.2 855.9,920.0 C856.8,919.7 857.6,917.9 858.5,917.9 C859.4,917.9 860.2,919.9 861.1,920.0 C862.0,920.0 862.8,918.4 863.7,918.1 C864.6,917.8 865.4,918.0 866.3,918.1 C867.2,918.3 868.0,919.1 868.9,919.2 C869.8,919.3 870.6,918.8 871.5,918.9 C872.4,918.9 873.2,919.3 874.1,919.6 C875.0,919.9 875.8,920.6 876.7,920.7 C877.6,920.8 878.4,920.6 879.3,920.2 C880.2,919.9 881.0,918.6 881.9,918.4 C882.8,918.2 883.6,918.9 884.5,919.1 C885.4,919.2 886.2,919.4 887.1,919.4 C888.0,919.4 888.8,918.9 889.7,918.9 C890.6,918.9 891.4,919.3 892.3,919.2 C893.2,919.1 894.0,918.7 894.9,918.3 C895.8,917.8 896.6,917.0 897.5,916.8 C898.4,916.6 899.2,916.7 900.1,916.9 C901.0,917.2 901.8,918.4 902.7,918.3 C903.6,918.2 904.4,916.7 905.3,916.6 C906.2,916.5 907.0,917.5 907.9,917.9 C908.8,918.2 909.6,918.6 910.5,918.6 C911.4,918.6 912.2,917.8 913.1,917.7 C914.0,917.6 914.8,918.0 915.7,918.0 C916.6,918.0 917.4,918.1 918.3,917.9 C919.2,917.8 920.0,917.1 920.9,917.2 C921.8,917.4 922.6,918.9 923.5,919.0 C924.4,919.2 925.2,917.9 926.1,917.9 C927.0,918.0 927.8,919.3 928.7,919.3 C929.6,919.3 930.4,917.7 931.3,917.7 C932.2,917.7 933.0,919.2 933.9,919.4 C934.8,919.7 935.6,919.4 936.5,919.3 C937.4,919.3 938.2,919.1 939.1,919.0 C940.0,918.8 940.8,918.8 941.7,918.6 C942.6,918.4 943.4,917.7 944.3,917.9 C945.2,918.1 946.0,919.6 946.9,919.8 C947.8,919.9 948.6,918.8 949.5,918.8 C950.4,918.8 951.2,919.8 952.1,919.7 C953.0,919.7 953.8,918.6 954.7,918.4 C955.6,918.2 956.4,918.3 957.3,918.4 C958.2,918.4 959.0,918.3 959.9,918.7 C960.8,919.0 961.6,920.5 962.5,920.5 C963.4,920.5 964.2,918.7 965.1,918.7 C966.0,918.7 966.8,920.6 967.7,920.7 C968.6,920.8 969.4,919.3 970.3,919.1 C971.2,919.0 972.0,919.7 972.9,919.7 C973.8,919.6 974.6,919.0 975.5,919.0 C976.4,919.0 977.2,919.8 978.1,919.7 C979.0,919.5 979.8,918.3 980.7,918.1 C981.6,918.0 982.4,918.6 983.3,919.0 C984.2,919.3 985.0,920.5 985.9,920.4 C986.8,920.3 987.6,918.4 988.5,918.2 C989.4,918.1 990.2,919.5 991.1,919.5 C992.0,919.6 992.8,918.7 993.7,918.5 C994.6,918.3 995.4,918.6 996.3,918.4 C997.2,918.2 998.0,917.7 998.9,917.6 C999.8,917.4 1000.6,917.1 1001.5,917.5 C1002.4,917.9 1003.2,919.7 1004.1,920.1 C1005.0,920.4 1005.8,919.8 1006.7,919.7 C1007.6,919.6 1008.4,919.6 1009.3,919.5 C1010.2,919.5 1011.0,919.4 1011.9,919.5 C1012.8,919.6 1013.6,920.2 1014.5,919.9 C1015.4,919.5 1016.2,917.8 1017.1,917.6 C1018.0,917.4 1018.8,918.6 1019.7,918.7 C1020.6,918.9 1021.4,918.4 1022.3,918.4 C1023.2,918.4 1024.0,918.4 1024.9,918.6 C1025.8,918.8 1026.6,919.5 1027.5,919.5 C1028.4,919.6 1029.2,919.0 1030.1,919.0 C1031.0,919.0 1031.8,919.8 1032.7,919.5 C1033.6,919.2 1034.4,917.2 1035.3,917.1 C1036.2,916.9 1037.0,918.3 1037.9,918.5 C1038.8,918.7 1039.6,918.3 1040.5,918.2 C1041.4,918.0 1042.2,918.1 1043.1,917.9 C1044.0,917.7 1044.8,917.2 1045.7,917.1 C1046.6,917.0 1047.4,917.5 1048.3,917.2 C1049.2,916.9 1050.0,915.4 1050.9,915.3 C1051.8,915.2 1052.6,916.7 1053.5,916.6 C1054.4,916.5 1055.2,915.0 1056.1,914.7 C1057.0,914.4 1057.8,914.7 1058.7,914.7 C1059.6,914.8 1060.4,915.2 1061.3,915.1 C1062.2,915.1 1063.0,914.6 1063.9,914.2 C1064.8,913.8 1065.6,913.0 1066.5,912.7 C1067.4,912.3 1068.2,912.2 1069.1,912.1 C1070.0,912.0 1070.8,911.9 1071.7,912.1 C1072.6,912.2 1073.4,912.7 1074.3,913.1 C1075.2,913.5 1076.0,914.1 1076.9,914.3 C1077.8,914.5 1078.6,914.5 1079.5,914.3 C1080.4,914.0 1081.2,913.2 1082.1,913.1 C1083.0,912.9 1083.8,913.0 1084.7,913.3 C1085.6,913.5 1086.4,914.6 1087.3,914.6 C1088.2,914.6 1089.0,913.4 1089.9,913.3 C1090.8,913.2 1091.6,913.8 1092.5,913.9 C1093.4,913.9 1094.2,913.4 1095.1,913.6 C1096.0,913.9 1096.8,914.7 1097.7,915.3 C1098.6,916.0 1099.4,916.9 1100.3,917.6 C1101.2,918.2 1102.0,918.8 1102.9,919.2 C1103.8,919.6 1104.6,920.0 1105.5,920.2 C1106.4,920.5 1107.2,920.2 1108.1,920.7 C1109.0,921.2 1109.8,923.0 1110.7,923.3 C1111.6,923.6 1112.4,922.9 1113.3,922.6 C1114.2,922.3 1115.0,921.6 1115.9,921.4 C1116.8,921.2 1117.6,920.9 1118.5,921.4 C1119.4,921.8 1120.2,923.6 1121.1,924.1 C1122.0,924.6 1122.8,924.2 1123.7,924.3 C1124.6,924.3 1125.4,924.4 1126.3,924.3 C1127.2,924.1 1128.0,923.8 1128.9,923.5 C1129.8,923.3 1130.6,923.1 1131.5,922.9 C1132.4,922.7 1133.2,922.4 1134.1,922.5 C1135.0,922.5 1135.8,923.0 1136.7,923.1 C1137.6,923.2 1138.4,922.8 1139.3,923.2 C1140.2,923.5 1141.0,924.9 1141.9,925.3 C1142.8,925.7 1143.6,925.4 1144.5,925.4 C1145.4,925.4 1146.2,925.5 1147.1,925.2 C1148.0,925.0 1148.8,923.8 1149.7,923.7 C1150.6,923.5 1151.4,923.9 1152.3,924.1 C1153.2,924.2 1154.0,924.0 1154.9,924.4 C1155.8,924.8 1156.6,926.4 1157.5,926.4 C1158.4,926.4 1159.2,924.4 1160.1,924.3 C1161.0,924.3 1161.8,925.8 1162.7,926.0 C1163.6,926.2 1164.4,925.8 1165.3,925.6 C1166.2,925.5 1167.0,925.1 1167.9,925.2 C1168.8,925.3 1169.6,926.4 1170.5,926.2 C1171.4,926.1 1172.2,924.4 1173.1,924.2 C1174.0,923.9 1174.8,924.9 1175.7,924.8 C1176.6,924.7 1177.4,923.9 1178.3,923.7 C1179.2,923.5 1180.0,923.5 1180.9,923.4 C1181.8,923.4 1182.6,923.1 1183.5,923.2 C1184.4,923.2 1185.2,923.9 1186.1,923.9 C1187.0,923.9 1187.8,923.4 1188.7,923.3 C1189.6,923.1 1190.4,922.6 1191.3,923.0 C1192.2,923.4 1193.0,925.4 1193.9,925.5 C1194.8,925.6 1195.6,923.5 1196.5,923.5 C1197.4,923.4 1198.2,924.9 1199.1,925.0 C1200.0,925.2 1200.8,924.5 1201.7,924.4 C1202.6,924.3 1203.4,924.5 1204.3,924.4 C1205.2,924.4 1206.0,924.0 1206.9,924.1 C1207.8,924.2 1208.6,924.8 1209.5,924.9 C1210.4,925.0 1211.2,924.8 1212.1,924.8 C1213.0,924.7 1213.8,924.6 1214.7,924.4 C1215.6,924.3 1216.4,924.1 1217.3,924.1 C1218.2,924.1 1219.0,924.5 1219.9,924.6 C1220.8,924.7 1221.6,924.8 1222.5,924.8 C1223.4,924.8 1224.2,924.5 1225.1,924.4 C1226.0,924.4 1226.8,924.6 1227.7,924.4 C1228.6,924.3 1229.4,923.3 1230.3,923.5 C1231.2,923.7 1232.0,925.4 1232.9,925.6 C1233.8,925.8 1234.6,925.0 1235.5,924.7 C1236.4,924.4 1237.2,923.8 1238.1,923.6 C1239.0,923.5 1239.8,923.6 1240.7,924.0 C1241.6,924.5 1242.4,926.1 1243.3,926.1 C1244.2,926.2 1245.0,924.7 1245.9,924.5 C1246.8,924.3 1247.6,924.8 1248.5,925.0 C1249.4,925.1 1250.2,925.4 1251.1,925.5 C1252.0,925.6 1252.8,926.0 1253.7,925.8 C1254.6,925.5 1255.4,924.3 1256.3,924.0 C1257.2,923.7 1258.0,923.9 1258.9,923.9 C1259.8,923.9 1260.6,924.0 1261.5,923.7 C1262.4,923.5 1263.2,922.2 1264.1,922.4 C1265.0,922.5 1265.8,924.6 1266.7,924.5 C1267.6,924.4 1268.4,921.9 1269.3,921.8 C1270.2,921.8 1271.0,924.2 1271.9,924.2 C1272.8,924.2 1273.6,922.1 1274.5,921.7 C1275.4,921.2 1276.2,921.2 1277.1,921.4 C1278.0,921.6 1278.8,922.9 1279.7,923.1 C1280.6,923.3 1281.4,923.1 1282.3,922.7 C1283.2,922.4 1284.0,921.0 1284.9,920.8 C1285.8,920.6 1286.6,921.4 1287.5,921.5 C1288.4,921.5 1289.2,921.0 1290.1,921.0 C1291.0,921.0 1291.8,921.6 1292.7,921.4 C1293.6,921.2 1294.4,919.8 1295.3,919.9 C1296.2,919.9 1297.0,921.3 1297.9,921.7 C1298.8,922.0 1299.6,922.2 1300.5,922.1 C1301.4,922.0 1302.2,921.3 1303.1,921.3 C1304.0,921.2 1304.8,921.7 1305.7,921.8 C1306.6,921.9 1307.4,922.1 1308.3,921.9 C1309.2,921.6 1310.0,920.3 1310.9,920.3 C1311.8,920.2 1312.6,921.3 1313.5,921.6 C1314.4,921.8 1315.2,921.6 1316.1,921.5 C1317.0,921.4 1317.8,921.1 1318.7,920.8 C1319.6,920.4 1320.4,919.4 1321.3,919.4 C1322.2,919.4 1323.0,920.4 1323.9,920.8 C1324.8,921.2 1325.6,921.8 1326.5,921.6 C1327.4,921.4 1328.2,920.0 1329.1,919.9 C1330.0,919.7 1330.8,920.5 1331.7,920.8 C1332.6,921.1 1333.4,921.5 1334.3,921.5 C1335.2,921.4 1336.0,921.0 1336.9,920.6 C1337.8,920.2 1338.6,919.0 1339.5,919.0 C1340.4,919.0 1341.2,920.6 1342.1,920.7 C1343.0,920.8 1343.8,919.5 1344.7,919.6 C1345.6,919.7 1346.4,921.1 1347.3,921.3 C1348.2,921.5 1348.7,920.8 1349.9,920.8 C1351.1,920.8 1352.9,920.0 1354.5,921.3 C1356.1,922.6 1357.8,923.4 1359.4,928.4 C1361.0,933.4 1362.6,937.6 1364.2,951.0 C1365.8,964.4 1367.4,988.6 1369.0,1009.0 C1370.6,1029.4 1372.6,1055.2 1373.9,1073.5 C1375.2,1091.8 1376.0,1108.2 1377.1,1118.7 C1378.2,1129.2 1379.2,1137.0 1380.3,1136.5 C1381.4,1136.0 1382.4,1128.2 1383.5,1115.5 C1384.6,1102.8 1385.5,1079.4 1386.8,1060.6 C1388.1,1041.8 1390.0,1018.7 1391.6,1002.6 C1393.2,986.5 1394.6,974.1 1396.5,963.9 C1398.4,953.7 1400.5,947.2 1402.9,941.3 C1405.3,935.4 1408.3,931.6 1411.0,928.4 C1413.7,925.2 1416.0,924.3 1419.0,921.9 C1422.0,919.5 1426.3,912.8 1428.7,913.9 C1431.1,915.0 1432.2,924.4 1433.5,928.4 C1434.8,932.4 1435.2,938.4 1436.8,938.1 C1438.4,937.8 1441.3,926.8 1443.2,926.8 C1445.1,926.8 1445.4,937.8 1448.1,938.1 C1450.8,938.4 1455.9,928.5 1459.4,928.4 C1462.9,928.3 1466.3,937.5 1469.0,937.4 C1471.7,937.3 1472.8,929.6 1475.5,927.7 C1478.2,925.8 1483.0,923.0 1485.2,925.8 C1487.5,928.6 1487.9,938.1 1489.0,944.5 C1490.1,950.9 1490.3,964.2 1491.6,963.9 C1492.8,963.6 1494.9,941.0 1496.5,942.9 C1498.1,944.8 1499.4,971.2 1501.3,975.2 C1503.2,979.2 1505.9,963.1 1507.7,967.1 C1509.5,971.1 1510.6,998.3 1511.9,999.4 C1513.2,1000.5 1514.1,978.4 1515.8,973.5 C1517.5,968.6 1519.9,975.1 1522.3,970.3 C1524.7,965.5 1527.6,947.5 1530.3,944.5 C1533.0,941.5 1536.2,950.5 1538.4,952.6 C1540.6,954.8 1541.6,952.3 1543.2,957.4 C1544.8,962.5 1546.6,976.5 1548.1,983.2 C1549.5,989.9 1550.6,998.8 1551.9,997.7 C1553.2,996.6 1554.8,983.8 1556.1,976.8 C1557.3,969.8 1557.5,960.2 1559.4,955.8 C1561.3,951.4 1564.7,950.8 1567.4,950.3 C1570.1,949.8 1573.3,946.6 1575.5,952.6 C1577.7,958.6 1578.7,972.3 1580.3,986.5 C1581.9,1000.7 1583.6,1028.3 1585.2,1038.0 C1586.8,1047.7 1588.1,1044.2 1590.0,1044.5 C1591.9,1044.8 1594.6,1045.6 1596.5,1039.7 C1598.4,1033.8 1600.0,1013.0 1601.3,1009.0 C1602.6,1005.0 1602.9,1003.7 1604.5,1015.5 C1606.1,1027.3 1608.8,1060.1 1611.0,1080.0 C1613.2,1099.9 1615.5,1123.8 1617.4,1134.8 C1619.3,1145.8 1620.7,1146.6 1622.3,1146.1 C1623.9,1145.6 1625.2,1143.7 1627.1,1131.6 C1629.0,1119.5 1630.8,1087.5 1633.5,1073.5 C1636.2,1059.5 1640.8,1049.9 1643.2,1047.7 C1645.6,1045.5 1646.2,1049.8 1648.1,1060.6 C1650.0,1071.4 1652.3,1098.3 1654.5,1112.3 C1656.7,1126.3 1658.6,1141.8 1661.0,1144.5 C1663.4,1147.2 1666.6,1139.2 1669.0,1128.4 C1671.4,1117.7 1673.7,1093.7 1675.5,1080.0 C1677.3,1066.3 1678.7,1051.2 1680.0,1046.1 C1681.3,1041.0 1682.2,1043.3 1683.3,1049.4 C1684.4,1055.5 1685.5,1080.9 1686.6,1082.6 C1687.7,1084.3 1688.9,1063.6 1690.0,1059.4 C1691.1,1055.2 1692.2,1054.9 1693.3,1057.7 C1694.4,1060.5 1695.6,1068.0 1696.6,1076.0 C1697.6,1084.0 1698.1,1108.0 1699.2,1105.8 C1700.3,1103.6 1702.0,1074.3 1703.2,1062.7 C1704.4,1051.1 1704.6,1043.9 1706.5,1036.2 C1708.4,1028.5 1712.6,1016.3 1714.8,1016.3 C1717.0,1016.3 1718.4,1031.2 1719.8,1036.2 C1721.2,1041.2 1721.4,1045.5 1723.1,1046.1 C1724.8,1046.6 1727.9,1038.4 1729.8,1039.5 C1731.7,1040.6 1733.3,1048.9 1734.7,1052.8 C1736.1,1056.7 1736.7,1056.6 1738.1,1062.7 C1739.5,1068.8 1741.6,1085.4 1743.0,1089.3 C1744.4,1093.2 1745.0,1091.4 1746.4,1085.9 C1747.8,1080.4 1749.7,1066.0 1751.3,1056.1 C1752.9,1046.1 1754.4,1030.9 1756.3,1026.2 C1758.2,1021.5 1761.0,1027.1 1762.9,1027.9 C1764.8,1028.7 1766.0,1032.6 1767.9,1031.2 C1769.9,1029.8 1772.4,1022.4 1774.6,1019.6 C1776.8,1016.8 1779.3,1017.9 1781.2,1014.6 C1783.1,1011.3 1784.3,1003.6 1786.2,999.7 C1788.1,995.8 1790.3,994.7 1792.8,991.4 C1795.3,988.1 1798.9,980.9 1801.1,979.8 C1803.3,978.7 1804.2,982.2 1806.1,984.7 C1808.0,987.2 1810.2,992.8 1812.7,994.7 C1815.2,996.7 1818.8,998.6 1821.0,996.4 C1823.2,994.2 1823.0,985.5 1826.0,981.4 C1829.0,977.2 1836.3,967.9 1839.3,971.5 C1842.3,975.1 1842.8,993.3 1844.2,1003.0 C1845.6,1012.7 1846.2,1020.4 1847.6,1029.5 C1849.0,1038.6 1850.8,1055.5 1852.5,1057.7 C1854.2,1059.9 1856.0,1049.7 1857.5,1042.8 C1859.0,1035.9 1860.7,1013.0 1861.8,1016.3 C1862.9,1019.6 1863.4,1038.4 1864.1,1062.7 C1864.8,1087.0 1865.0,1132.4 1865.8,1162.3 C1866.6,1192.2 1868.0,1241.9 1869.1,1241.9 C1870.2,1241.9 1871.3,1194.1 1872.4,1162.3 C1873.5,1130.5 1874.7,1066.6 1875.8,1051.1 C1876.9,1035.6 1878.1,1034.3 1879.1,1069.4 C1880.1,1104.5 1880.9,1216.5 1881.7,1261.8 C1882.5,1307.1 1883.0,1346.9 1884.0,1341.4 C1885.0,1335.9 1886.5,1269.5 1887.4,1228.6 C1888.4,1187.7 1888.9,1121.3 1889.7,1095.9 C1890.5,1070.5 1890.8,1078.8 1892.3,1076.0 C1893.8,1073.2 1897.6,1084.8 1899.0,1079.3 C1900.4,1073.8 1899.9,1049.4 1900.6,1042.8 C1901.3,1036.2 1902.0,1036.2 1903.0,1039.5 C1904.0,1042.8 1905.6,1063.2 1906.6,1062.7 C1907.6,1062.2 1907.1,1042.8 1908.9,1036.2 C1910.7,1029.6 1914.4,1024.8 1917.2,1022.9 C1920.0,1021.0 1922.5,1024.6 1925.5,1024.6 C1928.5,1024.6 1932.2,1021.0 1935.5,1022.9 C1938.8,1024.8 1942.6,1032.6 1945.4,1036.2 C1948.2,1039.8 1950.2,1039.0 1952.1,1044.5 C1954.0,1050.0 1955.3,1062.5 1957.0,1069.4 C1958.7,1076.3 1960.1,1082.9 1962.0,1085.9 C1963.9,1088.9 1966.9,1089.0 1968.6,1087.6 C1970.3,1086.2 1970.3,1079.8 1972.0,1077.6 C1973.7,1075.4 1976.5,1073.5 1978.6,1074.3 C1980.7,1075.1 1983.6,1081.2 1984.6,1082.6" stroke="#0000ff" stroke-width="9.5"/>
<path d="M260.5,1606.7 C260.9,1606.8 262.2,1607.0 263.1,1607.1 C264.0,1607.2 264.8,1607.1 265.7,1607.2 C266.6,1607.3 267.4,1607.7 268.3,1607.6 C269.2,1607.6 270.0,1607.1 270.9,1607.1 C271.8,1607.1 272.6,1607.9 273.5,1607.6 C274.4,1607.3 275.2,1605.3 276.1,1605.1 C277.0,1604.9 277.8,1605.9 278.7,1606.3 C279.6,1606.7 280.4,1607.6 281.3,1607.6 C282.2,1607.7 283.0,1606.8 283.9,1606.8 C284.8,1606.8 285.6,1607.8 286.5,1607.5 C287.4,1607.3 288.2,1605.5 289.1,1605.3 C290.0,1605.1 290.8,1606.3 291.7,1606.3 C292.6,1606.4 293.4,1605.7 294.3,1605.7 C295.2,1605.7 296.0,1606.4 296.9,1606.5 C297.8,1606.7 298.6,1606.9 299.5,1606.6 C300.4,1606.4 301.2,1605.2 302.1,1605.0 C303.0,1604.9 303.8,1605.5 304.7,1605.6 C305.6,1605.7 306.4,1605.5 307.3,1605.8 C308.2,1606.1 309.0,1607.3 309.9,1607.6 C310.8,1607.8 311.6,1607.5 312.5,1607.1 C313.4,1606.8 314.2,1605.4 315.1,1605.5 C316.0,1605.5 316.8,1607.3 317.7,1607.3 C318.6,1607.3 319.4,1605.5 320.3,1605.4 C321.2,1605.4 322.0,1606.8 322.9,1606.8 C323.8,1606.8 324.6,1606.3 325.5,1605.5 C326.4,1604.6 327.2,1602.3 328.1,1601.9 C329.0,1601.5 329.8,1602.6 330.7,1603.1 C331.6,1603.5 332.4,1604.0 333.3,1604.5 C334.2,1605.0 335.0,1605.3 335.9,1605.8 C336.8,1606.4 337.6,1607.7 338.5,1608.1 C339.4,1608.4 340.2,1608.1 341.1,1607.8 C342.0,1607.5 342.8,1606.2 343.7,1606.3 C344.6,1606.3 345.4,1608.1 346.3,1608.2 C347.2,1608.3 348.0,1607.2 348.9,1607.1 C349.8,1607.0 350.6,1607.7 351.5,1607.5 C352.4,1607.4 353.2,1606.1 354.1,1606.3 C355.0,1606.4 355.8,1608.2 356.7,1608.4 C357.6,1608.7 358.4,1607.8 359.3,1607.8 C360.2,1607.8 361.0,1608.5 361.9,1608.6 C362.8,1608.7 363.6,1608.8 364.5,1608.5 C365.4,1608.2 366.2,1607.1 367.1,1606.9 C368.0,1606.7 368.8,1607.2 369.7,1607.1 C370.6,1607.0 371.4,1606.6 372.3,1606.5 C373.2,1606.3 374.0,1606.4 374.9,1606.3 C375.8,1606.3 376.6,1606.1 377.5,1606.0 C378.4,1605.9 379.2,1606.3 380.1,1605.8 C381.0,1605.2 381.8,1603.6 382.7,1602.8 C383.6,1602.0 384.4,1600.3 385.3,1600.9 C386.2,1601.5 387.0,1605.6 387.9,1606.6 C388.8,1607.6 389.6,1606.8 390.5,1606.9 C391.4,1606.9 392.2,1606.6 393.1,1606.8 C394.0,1607.0 394.8,1608.1 395.7,1608.2 C396.6,1608.3 397.4,1607.5 398.3,1607.3 C399.2,1607.1 400.0,1606.8 400.9,1606.9 C401.8,1606.9 402.6,1607.1 403.5,1607.3 C404.4,1607.5 405.2,1608.2 406.1,1608.0 C407.0,1607.8 407.8,1606.0 408.7,1606.2 C409.6,1606.3 410.4,1608.8 411.3,1608.8 C412.2,1608.7 413.0,1606.2 413.9,1606.1 C414.8,1606.0 415.6,1607.8 416.5,1608.2 C417.4,1608.5 418.2,1608.8 419.1,1608.4 C420.0,1608.1 420.8,1606.2 421.7,1606.1 C422.6,1606.1 423.4,1608.1 424.3,1608.3 C425.2,1608.5 426.0,1607.4 426.9,1607.4 C427.8,1607.4 428.6,1608.3 429.5,1608.2 C430.4,1608.1 431.2,1607.0 432.1,1606.8 C433.0,1606.7 433.8,1607.0 434.7,1607.2 C435.6,1607.3 436.4,1607.3 437.3,1607.7 C438.2,1608.2 439.0,1610.1 439.9,1610.1 C440.8,1610.2 441.6,1608.3 442.5,1608.2 C443.4,1608.2 444.2,1609.6 445.1,1610.0 C446.0,1610.4 446.8,1610.6 447.7,1610.7 C448.6,1610.9 449.4,1611.2 450.3,1611.0 C451.2,1610.8 452.0,1609.7 452.9,1609.5 C453.8,1609.3 454.6,1609.6 455.5,1609.8 C456.4,1609.9 457.2,1610.2 458.1,1610.5 C459.0,1610.8 459.8,1611.5 460.7,1611.4 C461.6,1611.3 462.4,1609.7 463.3,1609.9 C464.2,1610.1 465.0,1612.0 465.9,1612.6 C466.8,1613.2 467.6,1613.2 468.5,1613.6 C469.4,1613.9 470.2,1614.7 471.1,1614.6 C472.0,1614.6 472.8,1612.9 473.7,1613.2 C474.6,1613.5 475.4,1616.3 476.3,1616.6 C477.2,1616.9 478.0,1615.1 478.9,1615.1 C479.8,1615.0 480.6,1615.8 481.5,1616.1 C482.4,1616.5 483.2,1616.8 484.1,1617.2 C485.0,1617.6 485.8,1618.4 486.7,1618.4 C487.6,1618.4 488.4,1617.0 489.3,1617.1 C490.2,1617.2 491.0,1618.8 491.9,1619.0 C492.8,1619.2 493.6,1618.5 494.5,1618.3 C495.4,1618.1 496.2,1617.9 497.1,1617.9 C498.0,1617.9 498.8,1618.2 499.7,1618.3 C500.6,1618.3 501.4,1618.2 502.3,1618.2 C503.2,1618.2 504.0,1618.1 504.9,1618.2 C505.8,1618.3 506.6,1618.4 507.5,1618.7 C508.4,1619.1 509.2,1620.1 510.1,1620.6 C511.0,1621.1 511.8,1621.9 512.7,1621.7 C513.6,1621.6 514.4,1620.1 515.3,1619.7 C516.2,1619.4 517.0,1619.2 517.9,1619.7 C518.8,1620.2 519.6,1622.3 520.5,1622.7 C521.4,1623.0 522.2,1621.9 523.1,1621.7 C524.0,1621.5 524.8,1621.7 525.7,1621.7 C526.6,1621.6 527.4,1621.3 528.3,1621.5 C529.2,1621.7 530.0,1622.4 530.9,1622.8 C531.8,1623.2 532.6,1623.8 533.5,1623.8 C534.4,1623.8 535.2,1623.0 536.1,1622.8 C537.0,1622.6 537.8,1622.8 538.7,1622.6 C539.6,1622.3 540.4,1621.2 541.3,1621.4 C542.2,1621.6 543.0,1623.7 543.9,1623.7 C544.8,1623.6 545.6,1621.3 546.5,1621.1 C547.4,1620.8 548.2,1621.9 549.1,1622.2 C550.0,1622.6 550.8,1623.3 551.7,1623.1 C552.6,1622.9 553.4,1621.1 554.3,1621.0 C555.2,1620.9 556.0,1622.2 556.9,1622.5 C557.8,1622.9 558.6,1623.1 559.5,1623.0 C560.4,1622.9 561.2,1622.1 562.1,1622.0 C563.0,1621.9 563.8,1622.6 564.7,1622.3 C565.6,1622.0 566.4,1620.4 567.3,1620.2 C568.2,1620.0 569.0,1621.1 569.9,1621.0 C570.8,1621.0 571.6,1619.9 572.5,1620.1 C573.4,1620.2 574.2,1621.9 575.1,1621.9 C576.0,1621.9 576.8,1620.5 577.7,1620.2 C578.6,1620.0 579.4,1620.3 580.3,1620.6 C581.2,1620.8 582.0,1621.8 582.9,1622.0 C583.8,1622.1 584.6,1621.5 585.5,1621.4 C586.4,1621.4 587.2,1621.8 588.1,1621.6 C589.0,1621.4 589.8,1620.3 590.7,1620.1 C591.6,1619.8 592.4,1620.0 593.3,1620.2 C594.2,1620.3 595.0,1620.8 595.9,1620.8 C596.8,1620.8 597.6,1620.3 598.5,1620.1 C599.4,1619.9 600.2,1619.6 601.1,1619.6 C602.0,1619.6 602.8,1620.0 603.7,1619.9 C604.6,1619.9 605.4,1619.2 606.3,1619.2 C607.2,1619.2 608.0,1619.5 608.9,1619.9 C609.8,1620.2 610.6,1621.3 611.5,1621.6 C612.4,1621.8 613.2,1621.7 614.1,1621.5 C615.0,1621.3 615.8,1620.8 616.7,1620.6 C617.6,1620.3 618.4,1620.3 619.3,1620.2 C620.2,1620.1 621.0,1619.9 621.9,1619.7 C622.8,1619.6 623.6,1619.1 624.5,1619.0 C625.4,1619.0 626.2,1619.2 627.1,1619.6 C628.0,1619.9 628.8,1620.7 629.7,1621.0 C630.6,1621.3 631.4,1621.4 632.3,1621.2 C633.2,1621.0 634.0,1619.8 634.9,1619.8 C635.8,1619.8 636.6,1620.8 637.5,1621.0 C638.4,1621.2 639.2,1621.0 640.1,1621.0 C641.0,1620.9 641.8,1620.8 642.7,1620.7 C643.6,1620.7 644.4,1620.7 645.3,1620.6 C646.2,1620.6 647.0,1620.9 647.9,1620.6 C648.8,1620.4 649.6,1619.3 650.5,1619.2 C651.4,1619.1 652.2,1620.0 653.1,1619.8 C654.0,1619.7 654.8,1618.6 655.7,1618.4 C656.6,1618.2 657.4,1618.5 658.3,1618.6 C659.2,1618.8 660.0,1619.1 660.9,1619.1 C661.8,1619.1 662.6,1618.9 663.5,1618.6 C664.4,1618.3 665.2,1617.2 666.1,1617.2 C667.0,1617.2 667.8,1618.6 668.7,1618.7 C669.6,1618.8 670.4,1617.8 671.3,1617.6 C672.2,1617.3 673.0,1617.5 673.9,1617.1 C674.8,1616.7 675.6,1615.3 676.5,1615.2 C677.4,1615.1 678.2,1616.4 679.1,1616.4 C680.0,1616.4 680.8,1615.3 681.7,1615.2 C682.6,1615.2 683.4,1616.1 684.3,1616.1 C685.2,1616.1 686.0,1615.3 686.9,1615.2 C687.8,1615.2 688.6,1615.9 689.5,1615.9 C690.4,1615.9 691.2,1614.9 692.1,1615.1 C693.0,1615.3 693.8,1616.7 694.7,1617.1 C695.6,1617.5 696.4,1617.0 697.3,1617.5 C698.2,1618.0 699.0,1619.2 699.9,1619.9 C700.8,1620.7 701.6,1621.2 702.5,1621.8 C703.4,1622.4 704.2,1623.4 705.1,1623.7 C706.0,1624.0 706.8,1623.7 707.7,1623.5 C708.6,1623.3 709.4,1622.4 710.3,1622.3 C711.2,1622.3 712.0,1622.7 712.9,1623.0 C713.8,1623.4 714.6,1623.8 715.5,1624.5 C716.4,1625.2 717.2,1626.9 718.1,1627.3 C719.0,1627.8 719.8,1627.7 720.7,1627.1 C721.6,1626.5 722.4,1624.5 723.3,1623.5 C724.2,1622.5 725.0,1621.8 725.9,1621.2 C726.8,1620.6 727.6,1619.2 728.5,1619.8 C729.4,1620.4 730.2,1623.5 731.1,1624.9 C732.0,1626.3 732.8,1628.0 733.7,1628.4 C734.6,1628.8 735.4,1627.9 736.3,1627.3 C737.2,1626.7 738.0,1625.9 738.9,1625.0 C739.8,1624.2 740.6,1622.9 741.5,1622.2 C742.4,1621.5 743.2,1621.0 744.1,1620.7 C745.0,1620.5 745.8,1620.2 746.7,1620.8 C747.6,1621.3 748.4,1623.3 749.3,1624.0 C750.2,1624.8 751.0,1624.1 751.9,1625.1 C752.8,1626.0 753.6,1628.3 754.5,1629.9 C755.4,1631.5 756.2,1632.8 757.1,1634.7 C758.0,1636.7 758.8,1639.0 759.7,1641.6 C760.6,1644.2 761.4,1647.7 762.3,1650.3 C763.2,1652.9 764.0,1654.9 764.9,1657.1 C765.8,1659.3 766.6,1661.7 767.5,1663.3 C768.4,1665.0 769.2,1666.5 770.1,1667.2 C771.0,1667.8 771.8,1667.2 772.7,1667.3 C773.6,1667.4 774.4,1667.6 775.3,1667.8 C776.2,1667.9 777.0,1667.4 777.9,1668.1 C778.8,1668.7 779.6,1669.8 780.5,1671.5 C781.4,1673.2 782.2,1675.4 783.1,1678.3 C784.0,1681.2 784.8,1685.2 785.7,1688.9 C786.6,1692.5 787.4,1697.0 788.3,1700.1 C789.2,1703.1 790.0,1709.0 790.9,1707.3 C791.8,1705.6 792.6,1696.6 793.5,1689.8 C794.4,1683.1 795.2,1671.4 796.1,1666.9 C797.0,1662.5 797.8,1664.4 798.7,1663.2 C799.6,1662.0 800.4,1661.0 801.3,1659.8 C802.2,1658.6 803.0,1657.0 803.9,1656.1 C804.8,1655.2 805.6,1655.1 806.5,1654.5 C807.4,1653.9 808.2,1652.9 809.1,1652.4 C810.0,1652.0 810.8,1652.4 811.7,1652.0 C812.6,1651.6 813.4,1650.3 814.3,1650.0 C815.2,1649.6 816.0,1649.6 816.9,1649.8 C817.8,1650.0 818.6,1650.0 819.5,1651.1 C820.4,1652.1 821.2,1651.8 822.1,1656.1 C823.0,1660.4 823.8,1675.4 824.7,1677.0 C825.6,1678.6 826.4,1671.9 827.3,1665.5 C828.2,1659.2 829.0,1644.1 829.9,1638.8 C830.8,1633.4 831.6,1634.9 832.5,1633.3 C833.4,1631.7 834.2,1630.3 835.1,1629.3 C836.0,1628.3 836.8,1627.6 837.7,1627.4 C838.6,1627.2 839.4,1628.5 840.3,1628.3 C841.2,1628.0 842.0,1626.6 842.9,1625.8 C843.8,1625.1 844.6,1624.0 845.5,1623.8 C846.4,1623.5 847.2,1624.6 848.1,1624.3 C849.0,1624.1 849.8,1622.4 850.7,1622.1 C851.6,1621.8 852.4,1622.8 853.3,1622.6 C854.2,1622.5 855.0,1621.4 855.9,1621.3 C856.8,1621.1 857.6,1621.4 858.5,1621.6 C859.4,1621.9 860.2,1622.5 861.1,1622.6 C862.0,1622.6 862.8,1622.3 863.7,1622.0 C864.6,1621.8 865.4,1620.8 866.3,1620.8 C867.2,1620.8 868.0,1621.7 868.9,1621.8 C869.8,1621.8 870.6,1621.4 871.5,1621.2 C872.4,1620.9 873.2,1620.5 874.1,1620.3 C875.0,1620.0 875.8,1619.5 876.7,1619.6 C877.6,1619.7 878.4,1620.7 879.3,1620.9 C880.2,1621.1 881.0,1620.6 881.9,1620.8 C882.8,1620.9 883.6,1621.7 884.5,1621.9 C885.4,1622.1 886.2,1622.1 887.1,1621.9 C888.0,1621.7 888.8,1621.2 889.7,1620.9 C890.6,1620.6 891.4,1620.1 892.3,1620.2 C893.2,1620.3 894.0,1621.9 894.9,1621.7 C895.8,1621.5 896.6,1619.6 897.5,1619.2 C898.4,1618.8 899.2,1619.2 900.1,1619.5 C901.0,1619.8 901.8,1620.7 902.7,1620.9 C903.6,1621.2 904.4,1621.4 905.3,1621.2 C906.2,1621.1 907.0,1620.0 907.9,1620.1 C908.8,1620.1 909.6,1621.2 910.5,1621.6 C911.4,1622.0 912.2,1622.5 913.1,1622.5 C914.0,1622.4 914.8,1621.3 915.7,1621.2 C916.6,1621.0 917.4,1621.5 918.3,1621.5 C919.2,1621.4 920.0,1621.1 920.9,1621.0 C921.8,1621.0 922.6,1621.0 923.5,1621.4 C924.4,1621.8 925.2,1623.3 926.1,1623.4 C927.0,1623.5 927.8,1621.9 928.7,1621.9 C929.6,1622.0 930.4,1623.4 931.3,1623.7 C932.2,1624.0 933.0,1623.8 933.9,1623.7 C934.8,1623.6 935.6,1623.2 936.5,1623.0 C937.4,1622.7 938.2,1622.0 939.1,1622.2 C940.0,1622.4 940.8,1624.2 941.7,1624.4 C942.6,1624.5 943.4,1623.4 944.3,1623.1 C945.2,1622.9 946.0,1623.1 946.9,1623.1 C947.8,1623.0 948.6,1622.6 949.5,1623.0 C950.4,1623.3 951.2,1624.8 952.1,1625.0 C953.0,1625.1 953.8,1624.0 954.7,1623.7 C955.6,1623.5 956.4,1623.3 957.3,1623.3 C958.2,1623.4 959.0,1624.0 959.9,1624.0 C960.8,1623.9 961.6,1622.9 962.5,1623.0 C963.4,1623.1 964.2,1624.2 965.1,1624.4 C966.0,1624.5 966.8,1624.0 967.7,1623.8 C968.6,1623.6 969.4,1623.2 970.3,1623.3 C971.2,1623.5 972.0,1624.4 972.9,1624.6 C973.8,1624.9 974.6,1625.1 975.5,1624.7 C976.4,1624.3 977.2,1622.5 978.1,1622.4 C979.0,1622.2 979.8,1623.7 980.7,1623.8 C981.6,1623.9 982.4,1622.8 983.3,1623.0 C984.2,1623.2 985.0,1624.6 985.9,1624.8 C986.8,1625.0 987.6,1624.7 988.5,1624.3 C989.4,1624.0 990.2,1623.0 991.1,1622.8 C992.0,1622.5 992.8,1622.9 993.7,1622.8 C994.6,1622.7 995.4,1622.1 996.3,1622.4 C997.2,1622.7 998.0,1624.7 998.9,1624.7 C999.8,1624.8 1000.6,1622.9 1001.5,1622.7 C1002.4,1622.5 1003.2,1623.5 1004.1,1623.5 C1005.0,1623.6 1005.8,1623.1 1006.7,1623.1 C1007.6,1623.1 1008.4,1623.5 1009.3,1623.5 C1010.2,1623.6 1011.0,1623.3 1011.9,1623.4 C1012.8,1623.4 1013.6,1624.0 1014.5,1623.7 C1015.4,1623.5 1016.2,1621.9 1017.1,1621.8 C1018.0,1621.8 1018.8,1623.4 1019.7,1623.4 C1020.6,1623.4 1021.4,1622.0 1022.3,1621.9 C1023.2,1621.7 1024.0,1622.3 1024.9,1622.3 C1025.8,1622.2 1026.6,1621.7 1027.5,1621.5 C1028.4,1621.3 1029.2,1621.1 1030.1,1621.1 C1031.0,1621.1 1031.8,1621.5 1032.7,1621.5 C1033.6,1621.5 1034.4,1621.3 1035.3,1621.1 C1036.2,1621.0 1037.0,1620.5 1037.9,1620.6 C1038.8,1620.6 1039.6,1621.4 1040.5,1621.4 C1041.4,1621.4 1042.2,1621.2 1043.1,1620.7 C1044.0,1620.3 1044.8,1619.5 1045.7,1619.0 C1046.6,1618.5 1047.4,1618.3 1048.3,1617.8 C1049.2,1617.3 1050.0,1616.5 1050.9,1616.1 C1051.8,1615.6 1052.6,1615.1 1053.5,1615.1 C1054.4,1615.2 1055.2,1615.7 1056.1,1616.4 C1057.0,1617.1 1057.8,1618.5 1058.7,1619.4 C1059.6,1620.3 1060.4,1620.5 1061.3,1621.9 C1062.2,1623.2 1063.0,1626.3 1063.9,1627.5 C1064.8,1628.7 1065.6,1628.8 1066.5,1629.1 C1067.4,1629.4 1068.2,1630.8 1069.1,1629.5 C1070.0,1628.2 1070.8,1623.9 1071.7,1621.2 C1072.6,1618.6 1073.4,1614.5 1074.3,1613.7 C1075.2,1612.9 1076.0,1615.3 1076.9,1616.4 C1077.8,1617.6 1078.6,1619.8 1079.5,1620.8 C1080.4,1621.8 1081.2,1622.5 1082.1,1622.4 C1083.0,1622.4 1083.8,1620.9 1084.7,1620.3 C1085.6,1619.7 1086.4,1619.9 1087.3,1619.0 C1088.2,1618.0 1089.0,1615.7 1089.9,1614.6 C1090.8,1613.4 1091.6,1612.2 1092.5,1612.2 C1093.4,1612.2 1094.2,1614.1 1095.1,1614.5 C1096.0,1615.0 1096.8,1614.1 1097.7,1615.0 C1098.6,1615.9 1099.4,1618.6 1100.3,1619.7 C1101.2,1620.9 1102.0,1621.3 1102.9,1621.9 C1103.8,1622.6 1104.6,1623.3 1105.5,1623.8 C1106.4,1624.4 1107.2,1624.7 1108.1,1625.2 C1109.0,1625.7 1109.8,1626.5 1110.7,1626.9 C1111.6,1627.3 1112.4,1627.8 1113.3,1627.6 C1114.2,1627.4 1115.0,1625.8 1115.9,1625.7 C1116.8,1625.6 1117.6,1626.7 1118.5,1627.0 C1119.4,1627.3 1120.2,1627.4 1121.1,1627.5 C1122.0,1627.6 1122.8,1627.7 1123.7,1627.7 C1124.6,1627.7 1125.4,1627.6 1126.3,1627.5 C1127.2,1627.4 1128.0,1627.1 1128.9,1627.3 C1129.8,1627.5 1130.6,1628.4 1131.5,1628.8 C1132.4,1629.2 1133.2,1629.9 1134.1,1629.8 C1135.0,1629.6 1135.8,1628.2 1136.7,1628.0 C1137.6,1627.8 1138.4,1628.3 1139.3,1628.8 C1140.2,1629.2 1141.0,1630.4 1141.9,1630.7 C1142.8,1631.1 1143.6,1630.9 1144.5,1631.0 C1145.4,1631.0 1146.2,1631.2 1147.1,1630.9 C1148.0,1630.7 1148.8,1629.3 1149.7,1629.4 C1150.6,1629.6 1151.4,1631.2 1152.3,1631.7 C1153.2,1632.2 1154.0,1632.4 1154.9,1632.5 C1155.8,1632.6 1156.6,1632.3 1157.5,1632.0 C1158.4,1631.7 1159.2,1631.3 1160.1,1630.7 C1161.0,1630.1 1161.8,1628.4 1162.7,1628.3 C1163.6,1628.2 1164.4,1630.1 1165.3,1630.0 C1166.2,1629.9 1167.0,1628.0 1167.9,1627.7 C1168.8,1627.5 1169.6,1628.2 1170.5,1628.4 C1171.4,1628.6 1172.2,1628.9 1173.1,1628.7 C1174.0,1628.6 1174.8,1628.1 1175.7,1627.5 C1176.6,1627.0 1177.4,1625.8 1178.3,1625.4 C1179.2,1625.0 1180.0,1625.1 1180.9,1625.3 C1181.8,1625.6 1182.6,1627.0 1183.5,1627.0 C1184.4,1626.9 1185.2,1625.0 1186.1,1624.9 C1187.0,1624.8 1187.8,1626.2 1188.7,1626.4 C1189.6,1626.5 1190.4,1626.1 1191.3,1625.9 C1192.2,1625.8 1193.0,1625.2 1193.9,1625.4 C1194.8,1625.5 1195.6,1626.8 1196.5,1626.8 C1197.4,1626.8 1198.2,1625.5 1199.1,1625.3 C1200.0,1625.1 1200.8,1625.4 1201.7,1625.6 C1202.6,1625.8 1203.4,1626.5 1204.3,1626.5 C1205.2,1626.5 1206.0,1625.9 1206.9,1625.8 C1207.8,1625.7 1208.6,1625.6 1209.5,1625.9 C1210.4,1626.1 1211.2,1627.1 1212.1,1627.4 C1213.0,1627.8 1213.8,1627.9 1214.7,1628.0 C1215.6,1628.2 1216.4,1628.8 1217.3,1628.6 C1218.2,1628.3 1219.0,1626.8 1219.9,1626.6 C1220.8,1626.4 1221.6,1627.4 1222.5,1627.6 C1223.4,1627.7 1224.2,1627.2 1225.1,1627.4 C1226.0,1627.5 1226.8,1628.2 1227.7,1628.3 C1228.6,1628.4 1229.4,1627.9 1230.3,1628.1 C1231.2,1628.3 1232.0,1629.5 1232.9,1629.5 C1233.8,1629.5 1234.6,1628.5 1235.5,1628.1 C1236.4,1627.7 1237.2,1627.1 1238.1,1627.1 C1239.0,1627.2 1239.8,1628.7 1240.7,1628.6 C1241.6,1628.6 1242.4,1626.9 1243.3,1626.8 C1244.2,1626.7 1245.0,1627.8 1245.9,1627.8 C1246.8,1627.9 1247.6,1627.1 1248.5,1627.2 C1249.4,1627.2 1250.2,1628.1 1251.1,1628.0 C1252.0,1627.9 1252.8,1626.9 1253.7,1626.7 C1254.6,1626.4 1255.4,1626.8 1256.3,1626.6 C1257.2,1626.3 1258.0,1625.4 1258.9,1625.2 C1259.8,1625.1 1260.6,1625.9 1261.5,1625.7 C1262.4,1625.6 1263.2,1624.6 1264.1,1624.6 C1265.0,1624.6 1265.8,1625.7 1266.7,1625.7 C1267.6,1625.7 1268.4,1625.1 1269.3,1624.7 C1270.2,1624.3 1271.0,1623.6 1271.9,1623.3 C1272.8,1623.1 1273.6,1623.3 1274.5,1623.3 C1275.4,1623.3 1276.2,1623.2 1277.1,1623.4 C1278.0,1623.5 1278.8,1624.3 1279.7,1624.1 C1280.6,1623.9 1281.4,1622.3 1282.3,1622.2 C1283.2,1622.1 1284.0,1623.3 1284.9,1623.4 C1285.8,1623.5 1286.6,1623.3 1287.5,1622.9 C1288.4,1622.5 1289.2,1621.1 1290.1,1621.0 C1291.0,1620.9 1291.8,1622.4 1292.7,1622.4 C1293.6,1622.3 1294.4,1620.9 1295.3,1620.6 C1296.2,1620.3 1297.0,1620.3 1297.9,1620.5 C1298.8,1620.7 1299.6,1621.6 1300.5,1621.6 C1301.4,1621.6 1302.2,1620.4 1303.1,1620.5 C1304.0,1620.5 1304.8,1622.0 1305.7,1622.1 C1306.6,1622.1 1307.4,1621.1 1308.3,1620.8 C1309.2,1620.5 1310.0,1620.1 1310.9,1620.2 C1311.8,1620.3 1312.6,1621.5 1313.5,1621.3 C1314.4,1621.1 1315.2,1619.1 1316.1,1619.0 C1317.0,1618.9 1317.8,1620.8 1318.7,1620.8 C1319.6,1620.7 1320.4,1619.0 1321.3,1618.7 C1322.2,1618.4 1323.0,1618.4 1323.9,1618.8 C1324.8,1619.2 1325.6,1620.7 1326.5,1620.9 C1327.4,1621.1 1328.2,1620.3 1329.1,1619.9 C1330.0,1619.5 1330.8,1618.8 1331.7,1618.5 C1332.6,1618.2 1333.4,1617.7 1334.3,1618.0 C1335.2,1618.3 1336.0,1620.0 1336.9,1620.2 C1337.8,1620.4 1338.6,1619.3 1339.5,1619.2 C1340.4,1619.1 1341.2,1619.8 1342.1,1619.6 C1343.0,1619.3 1343.8,1617.8 1344.7,1617.7 C1345.6,1617.6 1346.4,1618.9 1347.3,1619.0 C1348.2,1619.1 1348.7,1618.6 1349.9,1618.3 C1351.1,1618.0 1352.9,1615.9 1354.5,1617.1 C1356.1,1618.3 1358.0,1620.6 1359.4,1625.2 C1360.9,1629.8 1361.9,1630.5 1363.2,1644.5 C1364.5,1658.5 1366.2,1684.8 1367.4,1709.0 C1368.6,1733.2 1369.4,1762.8 1370.6,1789.7 C1371.8,1816.6 1373.5,1848.3 1374.8,1870.3 C1376.0,1892.3 1377.0,1908.5 1378.1,1921.9 C1379.2,1935.4 1380.2,1951.5 1381.3,1951.0 C1382.4,1950.5 1383.4,1937.5 1384.5,1918.7 C1385.6,1899.9 1386.5,1862.3 1387.7,1838.1 C1388.9,1813.9 1390.1,1792.9 1391.6,1773.5 C1393.1,1754.1 1394.6,1734.2 1396.5,1721.9 C1398.4,1709.6 1400.8,1705.0 1402.9,1699.4 C1405.1,1693.8 1407.2,1690.2 1409.4,1688.1 C1411.6,1685.9 1413.7,1687.8 1415.8,1686.5 C1417.9,1685.2 1420.1,1681.9 1422.3,1680.0 C1424.5,1678.1 1426.4,1673.3 1428.7,1675.2 C1431.0,1677.1 1433.7,1691.3 1436.1,1691.3 C1438.5,1691.3 1440.9,1677.3 1443.2,1675.2 C1445.5,1673.1 1447.3,1680.8 1449.7,1678.4 C1452.1,1676.0 1455.3,1664.1 1457.7,1660.6 C1460.1,1657.1 1462.3,1656.6 1464.2,1657.4 C1466.1,1658.2 1466.8,1666.6 1469.0,1665.5 C1471.2,1664.4 1474.1,1652.3 1477.1,1651.0 C1480.1,1649.7 1484.6,1651.0 1486.8,1657.4 C1489.0,1663.9 1488.7,1687.0 1490.0,1689.7 C1491.3,1692.4 1493.2,1667.6 1494.8,1673.5 C1496.4,1679.4 1497.8,1717.1 1499.7,1725.2 C1501.6,1733.3 1504.1,1716.0 1506.1,1721.9 C1508.1,1727.8 1510.3,1758.7 1511.9,1760.6 C1513.5,1762.5 1514.1,1738.3 1515.8,1733.2 C1517.5,1728.1 1520.4,1735.9 1522.3,1730.0 C1524.2,1724.1 1525.5,1703.4 1527.1,1697.7 C1528.7,1692.0 1529.8,1694.8 1531.9,1696.1 C1534.1,1697.4 1537.8,1702.6 1540.0,1705.8 C1542.2,1709.0 1542.9,1706.4 1544.8,1715.5 C1546.7,1724.6 1549.4,1759.5 1551.3,1760.6 C1553.2,1761.7 1554.2,1733.7 1556.1,1721.9 C1558.0,1710.1 1560.4,1695.6 1562.6,1689.7 C1564.8,1683.8 1566.8,1685.4 1569.0,1686.5 C1571.2,1687.6 1573.6,1688.6 1575.5,1696.1 C1577.4,1703.6 1578.7,1716.0 1580.3,1731.6 C1581.9,1747.2 1583.6,1775.5 1585.2,1789.7 C1586.8,1804.0 1588.1,1813.3 1590.0,1817.1 C1591.9,1820.9 1594.6,1820.1 1596.5,1812.3 C1598.4,1804.5 1600.0,1776.8 1601.3,1770.3 C1602.6,1763.8 1602.9,1762.2 1604.5,1773.5 C1606.1,1784.8 1608.8,1813.9 1611.0,1838.1 C1613.2,1862.3 1615.4,1901.0 1617.4,1918.7 C1619.4,1936.4 1621.3,1944.5 1623.2,1944.5 C1625.1,1944.5 1626.7,1933.8 1628.7,1918.7 C1630.7,1903.7 1633.1,1870.1 1635.2,1854.2 C1637.3,1838.3 1639.4,1826.2 1641.6,1823.5 C1643.8,1820.8 1645.9,1826.0 1648.1,1838.1 C1650.2,1850.2 1652.3,1878.4 1654.5,1896.1 C1656.7,1913.8 1658.6,1938.6 1661.0,1944.5 C1663.4,1950.4 1666.6,1940.7 1669.0,1931.6 C1671.4,1922.5 1673.7,1903.5 1675.5,1889.7 C1677.3,1875.9 1678.7,1855.2 1680.0,1848.9 C1681.3,1842.7 1682.2,1845.6 1683.3,1852.2 C1684.4,1858.8 1685.2,1887.3 1686.6,1888.7 C1688.0,1890.1 1690.2,1864.9 1691.6,1860.5 C1693.0,1856.1 1693.8,1854.2 1694.9,1862.2 C1696.0,1870.2 1697.1,1905.3 1698.2,1908.6 C1699.3,1911.9 1700.2,1894.2 1701.6,1882.0 C1703.0,1869.8 1704.1,1846.9 1706.5,1835.6 C1708.9,1824.3 1713.6,1815.1 1715.8,1814.0 C1718.0,1812.9 1718.3,1823.5 1719.8,1829.0 C1721.3,1834.5 1722.9,1846.4 1724.8,1847.2 C1726.7,1848.0 1729.5,1834.3 1731.4,1834.0 C1733.3,1833.7 1735.0,1839.8 1736.4,1845.6 C1737.8,1851.4 1738.5,1862.4 1739.7,1868.8 C1740.9,1875.2 1742.3,1882.6 1743.7,1883.7 C1745.1,1884.8 1746.6,1884.5 1748.0,1875.4 C1749.4,1866.3 1750.6,1840.3 1752.3,1829.0 C1754.0,1817.7 1756.2,1811.3 1758.0,1807.4 C1759.8,1803.5 1761.4,1804.7 1762.9,1805.8 C1764.4,1806.9 1765.2,1814.0 1766.9,1814.0 C1768.6,1814.0 1771.1,1808.8 1772.9,1805.8 C1774.7,1802.8 1776.1,1798.6 1777.9,1795.8 C1779.7,1793.0 1781.8,1793.1 1783.5,1789.2 C1785.2,1785.3 1786.2,1775.9 1787.8,1772.6 C1789.3,1769.3 1791.1,1767.6 1792.8,1769.3 C1794.5,1771.0 1796.1,1784.5 1797.8,1782.5 C1799.5,1780.5 1800.3,1760.6 1802.8,1757.6 C1805.3,1754.6 1809.7,1761.5 1812.7,1764.3 C1815.7,1767.1 1818.8,1775.0 1821.0,1774.2 C1823.2,1773.4 1823.0,1764.3 1826.0,1759.3 C1829.0,1754.3 1836.3,1743.3 1839.3,1744.4 C1842.3,1745.5 1842.5,1756.8 1844.2,1765.9 C1845.9,1775.0 1847.5,1792.4 1849.2,1799.1 C1850.9,1805.8 1852.7,1806.9 1854.2,1805.8 C1855.8,1804.7 1857.1,1800.0 1858.5,1792.5 C1859.9,1785.0 1861.4,1760.5 1862.5,1761.0 C1863.6,1761.5 1864.4,1771.2 1865.1,1795.8 C1865.8,1820.4 1865.8,1875.4 1866.5,1908.6 C1867.2,1941.8 1868.1,1994.9 1869.1,1994.9 C1870.1,1994.9 1871.3,1937.4 1872.4,1908.6 C1873.5,1879.8 1874.7,1833.3 1875.8,1822.3 C1876.9,1811.2 1878.1,1816.8 1879.1,1842.3 C1880.1,1867.8 1880.9,1942.7 1881.7,1975.0 C1882.5,2007.3 1883.0,2041.8 1884.0,2036.3 C1885.0,2030.8 1886.5,1970.8 1887.4,1941.8 C1888.4,1912.8 1888.9,1879.3 1889.7,1862.2 C1890.5,1845.1 1891.0,1846.7 1892.3,1838.9 C1893.6,1831.2 1896.1,1810.2 1897.3,1815.7 C1898.5,1821.2 1898.8,1872.6 1899.6,1872.1 C1900.4,1871.5 1900.8,1822.9 1902.3,1812.4 C1903.8,1801.9 1906.4,1811.3 1908.9,1809.1 C1911.4,1806.9 1914.4,1800.2 1917.2,1799.1 C1920.0,1798.0 1922.7,1803.0 1925.5,1802.4 C1928.3,1801.9 1931.0,1794.7 1933.8,1795.8 C1936.6,1796.9 1939.3,1806.9 1942.1,1809.1 C1944.9,1811.3 1948.2,1805.8 1950.4,1809.1 C1952.6,1812.4 1953.5,1822.9 1955.4,1829.0 C1957.3,1835.1 1959.8,1843.4 1962.0,1845.6 C1964.2,1847.8 1966.4,1844.5 1968.6,1842.3 C1970.8,1840.1 1973.3,1831.8 1975.3,1832.3 C1977.2,1832.8 1978.8,1843.3 1980.3,1845.6 C1981.8,1847.9 1983.9,1846.1 1984.6,1846.2" stroke="#ff0000" stroke-width="9.5"/>
<path d="M260.5,2270.6 C260.9,2270.6 262.2,2270.8 263.1,2270.6 C264.0,2270.4 264.8,2269.8 265.7,2269.5 C266.6,2269.2 267.4,2269.0 268.3,2268.7 C269.2,2268.4 270.0,2267.7 270.9,2267.8 C271.8,2268.0 272.6,2269.4 273.5,2269.6 C274.4,2269.7 275.2,2268.9 276.1,2268.9 C277.0,2268.9 277.8,2269.7 278.7,2269.6 C279.6,2269.5 280.4,2268.4 281.3,2268.3 C282.2,2268.3 283.0,2269.4 283.9,2269.3 C284.8,2269.2 285.6,2267.8 286.5,2267.8 C287.4,2267.8 288.2,2269.0 289.1,2269.1 C290.0,2269.3 290.8,2269.0 291.7,2268.8 C292.6,2268.6 293.4,2267.9 294.3,2267.8 C295.2,2267.6 296.0,2267.9 296.9,2268.0 C297.8,2268.1 298.6,2268.4 299.5,2268.2 C300.4,2268.0 301.2,2266.8 302.1,2266.7 C303.0,2266.6 303.8,2267.4 304.7,2267.6 C305.6,2267.8 306.4,2268.4 307.3,2268.2 C308.2,2268.0 309.0,2266.6 309.9,2266.5 C310.8,2266.5 311.6,2267.7 312.5,2267.9 C313.4,2268.0 314.2,2267.5 315.1,2267.5 C316.0,2267.5 316.8,2268.0 317.7,2267.8 C318.6,2267.6 319.4,2266.7 320.3,2266.3 C321.2,2266.0 322.0,2265.4 322.9,2265.6 C323.8,2265.8 324.6,2267.2 325.5,2267.5 C326.4,2267.8 327.2,2267.6 328.1,2267.4 C329.0,2267.2 329.8,2266.7 330.7,2266.3 C331.6,2266.0 332.4,2265.4 333.3,2265.3 C334.2,2265.1 335.0,2265.3 335.9,2265.5 C336.8,2265.7 337.6,2266.6 338.5,2266.6 C339.4,2266.7 340.2,2265.5 341.1,2265.6 C342.0,2265.7 342.8,2267.3 343.7,2267.4 C344.6,2267.5 345.4,2266.7 346.3,2266.3 C347.2,2265.9 348.0,2265.1 348.9,2265.1 C349.8,2265.1 350.6,2266.3 351.5,2266.3 C352.4,2266.4 353.2,2265.3 354.1,2265.4 C355.0,2265.5 355.8,2266.7 356.7,2267.0 C357.6,2267.2 358.4,2267.0 359.3,2266.8 C360.2,2266.6 361.0,2265.8 361.9,2265.6 C362.8,2265.5 363.6,2265.9 364.5,2265.9 C365.4,2266.0 366.2,2265.9 367.1,2266.0 C368.0,2266.1 368.8,2266.2 369.7,2266.3 C370.6,2266.5 371.4,2267.3 372.3,2267.0 C373.2,2266.6 374.0,2264.7 374.9,2264.5 C375.8,2264.2 376.6,2265.2 377.5,2265.5 C378.4,2265.9 379.2,2266.3 380.1,2266.4 C381.0,2266.4 381.8,2265.6 382.7,2265.7 C383.6,2265.7 384.4,2266.7 385.3,2266.6 C386.2,2266.6 387.0,2265.2 387.9,2265.4 C388.8,2265.6 389.6,2267.5 390.5,2267.8 C391.4,2268.0 392.2,2267.2 393.1,2266.9 C394.0,2266.6 394.8,2265.8 395.7,2265.9 C396.6,2266.1 397.4,2267.5 398.3,2267.6 C399.2,2267.8 400.0,2267.0 400.9,2266.8 C401.8,2266.6 402.6,2266.5 403.5,2266.6 C404.4,2266.8 405.2,2267.6 406.1,2267.6 C407.0,2267.6 407.8,2266.9 408.7,2266.8 C409.6,2266.7 410.4,2266.7 411.3,2267.1 C412.2,2267.5 413.0,2268.8 413.9,2269.1 C414.8,2269.4 415.6,2269.2 416.5,2268.8 C417.4,2268.5 418.2,2267.0 419.1,2267.0 C420.0,2267.1 420.8,2269.3 421.7,2269.3 C422.6,2269.4 423.4,2267.5 424.3,2267.4 C425.2,2267.2 426.0,2268.0 426.9,2268.5 C427.8,2269.0 428.6,2270.1 429.5,2270.3 C430.4,2270.5 431.2,2269.9 432.1,2269.7 C433.0,2269.5 433.8,2269.1 434.7,2269.0 C435.6,2269.0 436.4,2269.3 437.3,2269.4 C438.2,2269.5 439.0,2269.7 439.9,2269.7 C440.8,2269.6 441.6,2268.8 442.5,2269.1 C443.4,2269.5 444.2,2271.7 445.1,2271.8 C446.0,2271.8 446.8,2269.5 447.7,2269.3 C448.6,2269.1 449.4,2270.2 450.3,2270.6 C451.2,2271.0 452.0,2271.7 452.9,2271.8 C453.8,2271.9 454.6,2271.0 455.5,2271.2 C456.4,2271.5 457.2,2273.2 458.1,2273.3 C459.0,2273.3 459.8,2271.5 460.7,2271.6 C461.6,2271.8 462.4,2273.7 463.3,2274.1 C464.2,2274.5 465.0,2274.3 465.9,2274.3 C466.8,2274.3 467.6,2273.9 468.5,2274.1 C469.4,2274.2 470.2,2275.1 471.1,2275.1 C472.0,2275.1 472.8,2274.2 473.7,2274.3 C474.6,2274.4 475.4,2275.5 476.3,2275.8 C477.2,2276.1 478.0,2276.2 478.9,2276.1 C479.8,2276.0 480.6,2275.4 481.5,2275.2 C482.4,2275.0 483.2,2274.9 484.1,2274.9 C485.0,2275.0 485.8,2275.5 486.7,2275.4 C487.6,2275.3 488.4,2274.8 489.3,2274.4 C490.2,2274.1 491.0,2273.3 491.9,2273.4 C492.8,2273.5 493.6,2275.0 494.5,2275.1 C495.4,2275.1 496.2,2273.7 497.1,2273.5 C498.0,2273.4 498.8,2273.8 499.7,2274.0 C500.6,2274.2 501.4,2274.9 502.3,2274.7 C503.2,2274.5 504.0,2273.2 504.9,2272.8 C505.8,2272.4 506.6,2272.3 507.5,2272.2 C508.4,2272.1 509.2,2272.0 510.1,2272.1 C511.0,2272.3 511.8,2273.1 512.7,2273.1 C513.6,2273.1 514.4,2272.4 515.3,2272.1 C516.2,2271.9 517.0,2271.6 517.9,2271.5 C518.8,2271.5 519.6,2271.5 520.5,2271.7 C521.4,2271.9 522.2,2272.9 523.1,2272.7 C524.0,2272.5 524.8,2270.9 525.7,2270.5 C526.6,2270.2 527.4,2270.5 528.3,2270.6 C529.2,2270.8 530.0,2271.6 530.9,2271.6 C531.8,2271.6 532.6,2270.9 533.5,2270.5 C534.4,2270.2 535.2,2269.4 536.1,2269.3 C537.0,2269.1 537.8,2269.5 538.7,2269.5 C539.6,2269.5 540.4,2269.4 541.3,2269.2 C542.2,2268.9 543.0,2268.1 543.9,2267.9 C544.8,2267.8 545.6,2268.3 546.5,2268.2 C547.4,2268.1 548.2,2267.5 549.1,2267.6 C550.0,2267.6 550.8,2268.7 551.7,2268.5 C552.6,2268.4 553.4,2267.0 554.3,2266.7 C555.2,2266.5 556.0,2267.1 556.9,2267.2 C557.8,2267.4 558.6,2267.7 559.5,2267.7 C560.4,2267.7 561.2,2267.5 562.1,2267.1 C563.0,2266.7 563.8,2265.4 564.7,2265.1 C565.6,2264.8 566.4,2265.5 567.3,2265.3 C568.2,2265.2 569.0,2264.3 569.9,2264.1 C570.8,2263.9 571.6,2263.9 572.5,2263.9 C573.4,2263.8 574.2,2263.7 575.1,2263.7 C576.0,2263.7 576.8,2264.0 577.7,2264.1 C578.6,2264.2 579.4,2264.6 580.3,2264.4 C581.2,2264.1 582.0,2263.0 582.9,2262.6 C583.8,2262.2 584.6,2261.8 585.5,2261.9 C586.4,2262.0 587.2,2263.2 588.1,2263.2 C589.0,2263.3 589.8,2262.4 590.7,2262.2 C591.6,2262.0 592.4,2261.8 593.3,2262.2 C594.2,2262.6 595.0,2264.3 595.9,2264.4 C596.8,2264.4 597.6,2262.6 598.5,2262.6 C599.4,2262.6 600.2,2264.2 601.1,2264.3 C602.0,2264.5 602.8,2263.3 603.7,2263.4 C604.6,2263.5 605.4,2264.9 606.3,2265.1 C607.2,2265.4 608.0,2265.3 608.9,2264.9 C609.8,2264.6 610.6,2263.1 611.5,2262.8 C612.4,2262.5 613.2,2262.8 614.1,2263.2 C615.0,2263.7 615.8,2265.2 616.7,2265.4 C617.6,2265.7 618.4,2264.9 619.3,2264.7 C620.2,2264.5 621.0,2264.3 621.9,2264.4 C622.8,2264.6 623.6,2265.4 624.5,2265.7 C625.4,2266.0 626.2,2266.1 627.1,2266.0 C628.0,2266.0 628.8,2265.5 629.7,2265.4 C630.6,2265.3 631.4,2265.7 632.3,2265.6 C633.2,2265.5 634.0,2264.8 634.9,2264.8 C635.8,2264.9 636.6,2265.7 637.5,2265.8 C638.4,2265.9 639.2,2265.3 640.1,2265.5 C641.0,2265.7 641.8,2266.8 642.7,2267.1 C643.6,2267.4 644.4,2267.5 645.3,2267.3 C646.2,2267.2 647.0,2266.1 647.9,2266.2 C648.8,2266.3 649.6,2267.7 650.5,2267.8 C651.4,2267.8 652.2,2266.7 653.1,2266.5 C654.0,2266.3 654.8,2266.4 655.7,2266.7 C656.6,2267.0 657.4,2268.2 658.3,2268.4 C659.2,2268.7 660.0,2267.9 660.9,2268.1 C661.8,2268.3 662.6,2269.4 663.5,2269.6 C664.4,2269.7 665.2,2269.0 666.1,2269.0 C667.0,2269.0 667.8,2269.6 668.7,2269.4 C669.6,2269.2 670.4,2267.9 671.3,2268.0 C672.2,2268.1 673.0,2270.1 673.9,2270.2 C674.8,2270.2 675.6,2268.3 676.5,2268.3 C677.4,2268.3 678.2,2269.5 679.1,2270.0 C680.0,2270.4 680.8,2270.8 681.7,2271.0 C682.6,2271.2 683.4,2271.1 684.3,2271.2 C685.2,2271.3 686.0,2271.5 686.9,2271.4 C687.8,2271.2 688.6,2270.4 689.5,2270.3 C690.4,2270.3 691.2,2271.0 692.1,2271.2 C693.0,2271.4 693.8,2271.9 694.7,2271.7 C695.6,2271.5 696.4,2269.9 697.3,2270.0 C698.2,2270.1 699.0,2271.7 699.9,2272.4 C700.8,2273.2 701.6,2274.0 702.5,2274.5 C703.4,2275.0 704.2,2274.8 705.1,2275.4 C706.0,2276.1 706.8,2278.0 707.7,2278.5 C708.6,2279.0 709.4,2278.3 710.3,2278.3 C711.2,2278.4 712.0,2278.3 712.9,2278.7 C713.8,2279.1 714.6,2280.5 715.5,2280.7 C716.4,2280.9 717.2,2279.6 718.1,2279.7 C719.0,2279.8 719.8,2281.2 720.7,2281.3 C721.6,2281.3 722.4,2280.8 723.3,2280.0 C724.2,2279.2 725.0,2276.7 725.9,2276.3 C726.8,2276.0 727.6,2277.6 728.5,2277.9 C729.4,2278.2 730.2,2277.3 731.1,2278.1 C732.0,2279.0 732.8,2281.9 733.7,2282.9 C734.6,2283.9 735.4,2283.5 736.3,2283.9 C737.2,2284.3 738.0,2286.1 738.9,2285.3 C739.8,2284.5 740.6,2280.0 741.5,2279.0 C742.4,2278.1 743.2,2279.8 744.1,2279.8 C745.0,2279.8 745.8,2278.8 746.7,2278.9 C747.6,2279.0 748.4,2279.7 749.3,2280.6 C750.2,2281.6 751.0,2283.3 751.9,2284.6 C752.8,2285.9 753.6,2287.3 754.5,2288.6 C755.4,2290.0 756.2,2291.5 757.1,2292.9 C758.0,2294.3 758.8,2294.9 759.7,2297.2 C760.6,2299.5 761.4,2303.4 762.3,2306.6 C763.2,2309.7 764.0,2313.0 764.9,2316.1 C765.8,2319.2 766.6,2321.6 767.5,2325.2 C768.4,2328.9 769.2,2335.5 770.1,2338.1 C771.0,2340.8 771.8,2340.5 772.7,2341.0 C773.6,2341.6 774.4,2341.3 775.3,2341.6 C776.2,2341.8 777.0,2341.1 777.9,2342.7 C778.8,2344.2 779.6,2347.6 780.5,2351.0 C781.4,2354.5 782.2,2357.9 783.1,2363.2 C784.0,2368.5 784.8,2376.1 785.7,2382.7 C786.6,2389.3 787.4,2396.9 788.3,2402.8 C789.2,2408.8 790.0,2418.8 790.9,2418.5 C791.8,2418.1 792.6,2408.9 793.5,2400.8 C794.4,2392.7 795.2,2378.0 796.1,2369.8 C797.0,2361.6 797.8,2356.5 798.7,2351.8 C799.6,2347.0 800.4,2344.3 801.3,2341.3 C802.2,2338.3 803.0,2336.5 803.9,2333.7 C804.8,2330.9 805.6,2326.5 806.5,2324.5 C807.4,2322.5 808.2,2322.5 809.1,2321.8 C810.0,2321.2 810.8,2320.7 811.7,2320.5 C812.6,2320.3 813.4,2320.2 814.3,2320.6 C815.2,2320.9 816.0,2320.7 816.9,2322.6 C817.8,2324.6 818.6,2327.0 819.5,2332.2 C820.4,2337.4 821.2,2347.1 822.1,2353.8 C823.0,2360.6 823.8,2372.3 824.7,2372.6 C825.6,2372.9 826.4,2364.2 827.3,2355.8 C828.2,2347.3 829.0,2331.0 829.9,2321.9 C830.8,2312.9 831.6,2306.5 832.5,2301.6 C833.4,2296.7 834.2,2294.9 835.1,2292.4 C836.0,2289.9 836.8,2288.0 837.7,2286.9 C838.6,2285.8 839.4,2286.1 840.3,2285.6 C841.2,2285.0 842.0,2284.1 842.9,2283.6 C843.8,2283.2 844.6,2283.1 845.5,2282.8 C846.4,2282.6 847.2,2282.3 848.1,2282.0 C849.0,2281.6 849.8,2281.2 850.7,2280.7 C851.6,2280.2 852.4,2279.3 853.3,2279.0 C854.2,2278.6 855.0,2278.8 855.9,2278.7 C856.8,2278.6 857.6,2278.4 858.5,2278.2 C859.4,2278.1 860.2,2277.9 861.1,2277.7 C862.0,2277.5 862.8,2276.9 863.7,2277.0 C864.6,2277.0 865.4,2278.1 866.3,2278.1 C867.2,2278.0 868.0,2276.9 868.9,2276.8 C869.8,2276.6 870.6,2277.0 871.5,2277.0 C872.4,2277.1 873.2,2277.1 874.1,2277.1 C875.0,2277.1 875.8,2276.8 876.7,2276.8 C877.6,2276.8 878.4,2277.4 879.3,2277.2 C880.2,2277.1 881.0,2276.0 881.9,2275.9 C882.8,2275.8 883.6,2276.4 884.5,2276.7 C885.4,2276.9 886.2,2277.7 887.1,2277.5 C888.0,2277.2 888.8,2275.3 889.7,2275.1 C890.6,2274.9 891.4,2276.3 892.3,2276.4 C893.2,2276.4 894.0,2275.9 894.9,2275.6 C895.8,2275.3 896.6,2274.8 897.5,2274.6 C898.4,2274.5 899.2,2274.2 900.1,2274.5 C901.0,2274.8 901.8,2276.5 902.7,2276.6 C903.6,2276.6 904.4,2274.8 905.3,2274.8 C906.2,2274.8 907.0,2276.5 907.9,2276.5 C908.8,2276.5 909.6,2274.9 910.5,2274.8 C911.4,2274.6 912.2,2275.6 913.1,2275.6 C914.0,2275.5 914.8,2274.6 915.7,2274.6 C916.6,2274.7 917.4,2275.7 918.3,2276.1 C919.2,2276.5 920.0,2276.9 920.9,2276.8 C921.8,2276.7 922.6,2275.4 923.5,2275.3 C924.4,2275.2 925.2,2275.9 926.1,2276.2 C927.0,2276.6 927.8,2277.4 928.7,2277.3 C929.6,2277.1 930.4,2275.7 931.3,2275.5 C932.2,2275.3 933.0,2275.8 933.9,2276.1 C934.8,2276.3 935.6,2276.6 936.5,2276.8 C937.4,2277.0 938.2,2277.5 939.1,2277.2 C940.0,2277.0 940.8,2275.4 941.7,2275.3 C942.6,2275.2 943.4,2276.7 944.3,2276.7 C945.2,2276.7 946.0,2275.4 946.9,2275.2 C947.8,2275.0 948.6,2274.8 949.5,2275.2 C950.4,2275.6 951.2,2277.7 952.1,2277.7 C953.0,2277.6 953.8,2275.1 954.7,2275.1 C955.6,2275.1 956.4,2277.2 957.3,2277.5 C958.2,2277.9 959.0,2277.2 959.9,2277.1 C960.8,2277.0 961.6,2276.9 962.5,2276.8 C963.4,2276.8 964.2,2276.9 965.1,2276.9 C966.0,2276.8 966.8,2276.8 967.7,2276.6 C968.6,2276.3 969.4,2275.6 970.3,2275.5 C971.2,2275.3 972.0,2275.9 972.9,2275.8 C973.8,2275.7 974.6,2274.9 975.5,2275.0 C976.4,2275.2 977.2,2276.5 978.1,2276.8 C979.0,2277.0 979.8,2276.5 980.7,2276.5 C981.6,2276.4 982.4,2276.7 983.3,2276.4 C984.2,2276.1 985.0,2274.8 985.9,2274.7 C986.8,2274.6 987.6,2275.7 988.5,2275.6 C989.4,2275.6 990.2,2274.5 991.1,2274.6 C992.0,2274.7 992.8,2275.8 993.7,2276.0 C994.6,2276.2 995.4,2275.7 996.3,2275.8 C997.2,2275.9 998.0,2276.4 998.9,2276.4 C999.8,2276.4 1000.6,2275.7 1001.5,2275.5 C1002.4,2275.3 1003.2,2275.3 1004.1,2275.3 C1005.0,2275.3 1005.8,2275.8 1006.7,2275.5 C1007.6,2275.2 1008.4,2273.6 1009.3,2273.5 C1010.2,2273.4 1011.0,2274.9 1011.9,2274.8 C1012.8,2274.8 1013.6,2273.3 1014.5,2273.1 C1015.4,2273.0 1016.2,2274.0 1017.1,2274.0 C1018.0,2274.0 1018.8,2273.0 1019.7,2273.2 C1020.6,2273.4 1021.4,2275.5 1022.3,2275.4 C1023.2,2275.4 1024.0,2272.8 1024.9,2272.8 C1025.8,2272.7 1026.6,2274.8 1027.5,2275.2 C1028.4,2275.6 1029.2,2275.4 1030.1,2275.1 C1031.0,2274.9 1031.8,2273.7 1032.7,2273.6 C1033.6,2273.5 1034.4,2274.8 1035.3,2274.6 C1036.2,2274.4 1037.0,2272.6 1037.9,2272.3 C1038.8,2272.1 1039.6,2272.9 1040.5,2273.0 C1041.4,2273.2 1042.2,2273.0 1043.1,2273.2 C1044.0,2273.3 1044.8,2273.6 1045.7,2273.8 C1046.6,2274.0 1047.4,2273.6 1048.3,2274.1 C1049.2,2274.6 1050.0,2276.7 1050.9,2276.9 C1051.8,2277.1 1052.6,2275.2 1053.5,2275.3 C1054.4,2275.3 1055.2,2276.9 1056.1,2277.2 C1057.0,2277.4 1057.8,2276.8 1058.7,2276.8 C1059.6,2276.7 1060.4,2276.6 1061.3,2276.8 C1062.2,2277.1 1063.0,2277.9 1063.9,2278.1 C1064.8,2278.3 1065.6,2277.6 1066.5,2277.9 C1067.4,2278.3 1068.2,2280.4 1069.1,2280.4 C1070.0,2280.5 1070.8,2278.6 1071.7,2278.3 C1072.6,2277.9 1073.4,2278.5 1074.3,2278.4 C1075.2,2278.3 1076.0,2278.0 1076.9,2277.8 C1077.8,2277.7 1078.6,2277.7 1079.5,2277.5 C1080.4,2277.3 1081.2,2277.0 1082.1,2276.6 C1083.0,2276.3 1083.8,2275.9 1084.7,2275.6 C1085.6,2275.3 1086.4,2274.6 1087.3,2274.7 C1088.2,2274.8 1089.0,2276.5 1089.9,2276.3 C1090.8,2276.2 1091.6,2274.3 1092.5,2273.9 C1093.4,2273.6 1094.2,2274.0 1095.1,2274.2 C1096.0,2274.3 1096.8,2274.8 1097.7,2274.7 C1098.6,2274.6 1099.4,2273.7 1100.3,2273.7 C1101.2,2273.7 1102.0,2274.5 1102.9,2274.6 C1103.8,2274.6 1104.6,2274.2 1105.5,2274.0 C1106.4,2273.7 1107.2,2273.3 1108.1,2273.0 C1109.0,2272.6 1109.8,2271.7 1110.7,2271.7 C1111.6,2271.6 1112.4,2272.7 1113.3,2272.8 C1114.2,2272.9 1115.0,2272.2 1115.9,2272.3 C1116.8,2272.3 1117.6,2273.2 1118.5,2273.2 C1119.4,2273.1 1120.2,2272.2 1121.1,2272.0 C1122.0,2271.9 1122.8,2272.2 1123.7,2272.3 C1124.6,2272.4 1125.4,2272.6 1126.3,2272.5 C1127.2,2272.3 1128.0,2271.4 1128.9,2271.3 C1129.8,2271.3 1130.6,2272.0 1131.5,2272.2 C1132.4,2272.3 1133.2,2272.5 1134.1,2272.1 C1135.0,2271.7 1135.8,2269.9 1136.7,2269.8 C1137.6,2269.8 1138.4,2271.5 1139.3,2271.8 C1140.2,2272.1 1141.0,2271.6 1141.9,2271.5 C1142.8,2271.4 1143.6,2271.5 1144.5,2271.2 C1145.4,2270.9 1146.2,2269.9 1147.1,2269.6 C1148.0,2269.2 1148.8,2269.3 1149.7,2269.2 C1150.6,2269.0 1151.4,2268.6 1152.3,2268.6 C1153.2,2268.6 1154.0,2268.8 1154.9,2269.1 C1155.8,2269.4 1156.6,2270.3 1157.5,2270.3 C1158.4,2270.2 1159.2,2269.2 1160.1,2268.7 C1161.0,2268.2 1161.8,2267.6 1162.7,2267.5 C1163.6,2267.4 1164.4,2268.2 1165.3,2268.2 C1166.2,2268.1 1167.0,2267.3 1167.9,2267.5 C1168.8,2267.6 1169.6,2268.6 1170.5,2268.9 C1171.4,2269.2 1172.2,2269.1 1173.1,2269.2 C1174.0,2269.4 1174.8,2270.0 1175.7,2269.6 C1176.6,2269.3 1177.4,2267.5 1178.3,2267.2 C1179.2,2266.9 1180.0,2268.0 1180.9,2267.9 C1181.8,2267.9 1182.6,2266.9 1183.5,2267.2 C1184.4,2267.4 1185.2,2269.0 1186.1,2269.3 C1187.0,2269.6 1187.8,2269.2 1188.7,2269.0 C1189.6,2268.8 1190.4,2268.0 1191.3,2268.1 C1192.2,2268.1 1193.0,2269.2 1193.9,2269.2 C1194.8,2269.2 1195.6,2268.0 1196.5,2267.9 C1197.4,2267.8 1198.2,2268.6 1199.1,2268.6 C1200.0,2268.5 1200.8,2267.9 1201.7,2267.7 C1202.6,2267.5 1203.4,2267.1 1204.3,2267.3 C1205.2,2267.5 1206.0,2268.8 1206.9,2269.0 C1207.8,2269.2 1208.6,2268.7 1209.5,2268.5 C1210.4,2268.3 1211.2,2267.7 1212.1,2267.7 C1213.0,2267.7 1213.8,2268.4 1214.7,2268.4 C1215.6,2268.4 1216.4,2267.8 1217.3,2267.7 C1218.2,2267.7 1219.0,2268.4 1219.9,2268.1 C1220.8,2267.8 1221.6,2266.3 1222.5,2266.0 C1223.4,2265.6 1224.2,2266.1 1225.1,2266.1 C1226.0,2266.1 1226.8,2265.7 1227.7,2265.9 C1228.6,2266.2 1229.4,2267.1 1230.3,2267.4 C1231.2,2267.8 1232.0,2268.1 1232.9,2268.0 C1233.8,2267.9 1234.6,2266.7 1235.5,2266.7 C1236.4,2266.6 1237.2,2267.8 1238.1,2267.9 C1239.0,2267.9 1239.8,2266.9 1240.7,2267.0 C1241.6,2267.2 1242.4,2268.5 1243.3,2268.9 C1244.2,2269.3 1245.0,2269.6 1245.9,2269.4 C1246.8,2269.2 1247.6,2267.5 1248.5,2267.7 C1249.4,2267.9 1250.2,2270.1 1251.1,2270.4 C1252.0,2270.8 1252.8,2270.1 1253.7,2269.8 C1254.6,2269.5 1255.4,2268.6 1256.3,2268.5 C1257.2,2268.5 1258.0,2269.3 1258.9,2269.4 C1259.8,2269.5 1260.6,2268.8 1261.5,2269.1 C1262.4,2269.4 1263.2,2270.5 1264.1,2270.9 C1265.0,2271.4 1265.8,2271.9 1266.7,2271.7 C1267.6,2271.5 1268.4,2270.2 1269.3,2269.9 C1270.2,2269.6 1271.0,2269.8 1271.9,2270.0 C1272.8,2270.2 1273.6,2270.9 1274.5,2271.2 C1275.4,2271.5 1276.2,2271.7 1277.1,2271.8 C1278.0,2271.8 1278.8,2271.6 1279.7,2271.4 C1280.6,2271.2 1281.4,2270.8 1282.3,2270.5 C1283.2,2270.2 1284.0,2269.4 1284.9,2269.5 C1285.8,2269.6 1286.6,2270.7 1287.5,2270.9 C1288.4,2271.0 1289.2,2270.3 1290.1,2270.4 C1291.0,2270.4 1291.8,2271.2 1292.7,2271.3 C1293.6,2271.3 1294.4,2270.6 1295.3,2270.6 C1296.2,2270.5 1297.0,2270.8 1297.9,2271.0 C1298.8,2271.1 1299.6,2271.6 1300.5,2271.6 C1301.4,2271.5 1302.2,2270.6 1303.1,2270.5 C1304.0,2270.5 1304.8,2271.5 1305.7,2271.3 C1306.6,2271.1 1307.4,2269.9 1308.3,2269.5 C1309.2,2269.0 1310.0,2268.4 1310.9,2268.6 C1311.8,2268.9 1312.6,2271.0 1313.5,2271.0 C1314.4,2271.0 1315.2,2268.6 1316.1,2268.6 C1317.0,2268.6 1317.8,2271.1 1318.7,2271.2 C1319.6,2271.4 1320.4,2270.1 1321.3,2269.7 C1322.2,2269.2 1323.0,2268.6 1323.9,2268.5 C1324.8,2268.4 1325.6,2268.8 1326.5,2269.1 C1327.4,2269.3 1328.2,2270.2 1329.1,2270.3 C1330.0,2270.3 1330.8,2269.3 1331.7,2269.3 C1332.6,2269.2 1333.4,2270.0 1334.3,2269.9 C1335.2,2269.7 1336.0,2268.3 1336.9,2268.4 C1337.8,2268.4 1338.6,2270.2 1339.5,2270.4 C1340.4,2270.5 1341.2,2269.0 1342.1,2269.0 C1343.0,2269.0 1343.8,2270.4 1344.7,2270.3 C1345.6,2270.2 1346.4,2268.5 1347.3,2268.4 C1348.2,2268.3 1349.0,2269.4 1349.9,2269.9 C1350.8,2270.3 1351.3,2268.9 1352.9,2271.0 C1354.5,2273.1 1357.5,2272.4 1359.4,2282.3 C1361.3,2292.2 1362.9,2311.8 1364.2,2330.6 C1365.5,2349.4 1366.1,2371.0 1367.4,2395.2 C1368.8,2419.4 1370.7,2448.9 1372.3,2475.8 C1373.9,2502.7 1375.8,2536.1 1377.1,2556.5 C1378.4,2576.9 1379.2,2597.9 1380.3,2598.4 C1381.4,2598.9 1382.4,2580.1 1383.5,2559.7 C1384.6,2539.3 1385.5,2503.2 1386.8,2475.8 C1388.0,2448.4 1389.4,2417.8 1391.0,2395.2 C1392.6,2372.6 1394.5,2354.3 1396.5,2340.3 C1398.5,2326.3 1400.8,2317.2 1402.9,2311.3 C1405.1,2305.4 1407.0,2305.3 1409.4,2304.8 C1411.8,2304.3 1414.5,2310.2 1417.4,2308.1 C1420.4,2305.9 1424.0,2291.9 1427.1,2291.9 C1430.2,2291.9 1433.4,2308.6 1436.1,2308.1 C1438.8,2307.6 1440.9,2291.7 1443.2,2288.7 C1445.5,2285.7 1447.3,2291.7 1449.7,2290.3 C1452.1,2289.0 1455.0,2281.7 1457.7,2280.6 C1460.4,2279.5 1462.8,2283.9 1465.8,2283.9 C1468.8,2283.9 1472.3,2279.8 1475.5,2280.6 C1478.7,2281.4 1483.0,2281.4 1485.2,2288.7 C1487.4,2296.0 1487.3,2317.5 1488.4,2324.2 C1489.5,2330.9 1490.2,2330.9 1491.6,2329.0 C1492.9,2327.1 1495.2,2309.9 1496.5,2312.9 C1497.8,2315.9 1498.6,2336.9 1499.7,2346.8 C1500.8,2356.8 1501.6,2368.0 1502.9,2372.6 C1504.2,2377.2 1506.2,2368.8 1507.7,2374.2 C1509.2,2379.6 1510.6,2404.0 1511.9,2404.8 C1513.2,2405.6 1514.3,2384.4 1515.8,2379.0 C1517.2,2373.6 1519.0,2378.5 1520.6,2372.6 C1522.2,2366.7 1523.9,2349.4 1525.5,2343.5 C1527.1,2337.6 1528.4,2336.5 1530.3,2337.1 C1532.2,2337.7 1534.6,2343.6 1536.8,2346.8 C1539.0,2350.0 1541.3,2350.1 1543.2,2356.5 C1545.1,2362.9 1546.8,2376.9 1548.1,2385.5 C1549.4,2394.1 1550.0,2409.2 1551.3,2408.1 C1552.6,2407.0 1554.5,2391.9 1556.1,2379.0 C1557.7,2366.1 1559.4,2340.3 1561.0,2330.6 C1562.6,2320.9 1563.9,2321.5 1565.8,2321.0 C1567.7,2320.5 1570.4,2321.5 1572.3,2327.4 C1574.2,2333.3 1575.5,2342.5 1577.1,2356.5 C1578.7,2370.5 1580.3,2392.5 1581.9,2411.3 C1583.5,2430.1 1585.2,2458.4 1586.8,2469.4 C1588.4,2480.4 1590.0,2477.4 1591.6,2477.4 C1593.2,2477.4 1594.9,2478.3 1596.5,2469.4 C1598.1,2460.5 1600.0,2430.7 1601.3,2424.2 C1602.6,2417.7 1602.9,2417.7 1604.5,2430.6 C1606.1,2443.5 1609.0,2477.9 1611.0,2501.6 C1613.0,2525.3 1614.9,2557.0 1616.8,2572.6 C1618.7,2588.2 1620.6,2595.2 1622.3,2595.2 C1624.0,2595.2 1625.2,2589.8 1627.1,2572.6 C1629.0,2555.4 1631.1,2511.8 1633.5,2491.9 C1635.9,2472.0 1639.2,2456.9 1641.6,2453.2 C1644.0,2449.4 1645.9,2454.9 1648.1,2469.4 C1650.2,2483.9 1652.3,2519.3 1654.5,2540.3 C1656.7,2561.3 1658.6,2589.8 1661.0,2595.2 C1663.4,2600.6 1666.6,2587.1 1669.0,2572.6 C1671.4,2558.1 1673.7,2526.4 1675.5,2508.1 C1677.3,2489.8 1678.7,2469.6 1680.0,2462.6 C1681.3,2455.6 1682.1,2457.6 1683.3,2465.9 C1684.5,2474.2 1685.9,2509.3 1687.3,2512.3 C1688.7,2515.3 1690.3,2488.0 1691.6,2484.1 C1692.9,2480.2 1693.6,2477.8 1694.9,2489.1 C1696.2,2500.4 1697.8,2550.5 1699.2,2552.2 C1700.6,2553.9 1702.0,2515.7 1703.2,2499.1 C1704.4,2482.5 1705.1,2460.6 1706.5,2452.6 C1707.9,2444.6 1709.5,2452.1 1711.5,2451.0 C1713.5,2449.9 1716.3,2442.4 1718.2,2446.0 C1720.1,2449.6 1721.2,2469.7 1723.1,2472.5 C1725.0,2475.3 1727.9,2462.0 1729.8,2462.6 C1731.7,2463.2 1733.0,2469.7 1734.7,2475.8 C1736.4,2481.9 1738.0,2490.2 1739.7,2499.1 C1741.4,2507.9 1743.0,2528.9 1744.7,2528.9 C1746.4,2528.9 1748.0,2515.1 1749.7,2499.1 C1751.4,2483.1 1753.1,2445.7 1754.7,2432.7 C1756.3,2419.7 1757.6,2421.9 1759.6,2421.1 C1761.6,2420.3 1764.7,2430.2 1766.9,2427.7 C1769.1,2425.2 1771.1,2410.6 1772.9,2406.2 C1774.7,2401.8 1776.1,2404.2 1777.9,2401.2 C1779.7,2398.1 1781.8,2391.8 1783.5,2387.9 C1785.2,2384.0 1786.4,2378.3 1787.8,2378.0 C1789.2,2377.7 1790.6,2381.6 1792.1,2386.3 C1793.6,2391.0 1795.3,2410.1 1796.8,2406.2 C1798.3,2402.3 1799.5,2371.3 1801.1,2363.0 C1802.6,2354.7 1804.2,2355.3 1806.1,2356.4 C1808.0,2357.5 1810.2,2366.4 1812.7,2369.7 C1815.2,2373.0 1818.8,2379.1 1821.0,2376.3 C1823.2,2373.5 1823.2,2358.9 1826.0,2353.1 C1828.8,2347.3 1834.8,2338.2 1837.6,2341.5 C1840.4,2344.8 1841.2,2361.7 1842.6,2373.0 C1844.0,2384.3 1844.5,2399.8 1845.9,2409.5 C1847.3,2419.2 1849.2,2428.9 1850.9,2431.1 C1852.6,2433.3 1854.2,2430.0 1855.8,2422.8 C1857.4,2415.6 1859.4,2389.6 1860.8,2387.9 C1862.2,2386.2 1863.3,2383.2 1864.1,2412.8 C1864.9,2442.4 1865.0,2521.7 1865.8,2565.4 C1866.6,2609.1 1868.0,2674.9 1869.1,2674.9 C1870.2,2674.9 1871.3,2601.1 1872.4,2565.4 C1873.5,2529.7 1874.7,2474.2 1875.8,2460.9 C1876.9,2447.6 1878.1,2457.3 1879.1,2485.8 C1880.1,2514.3 1880.9,2594.2 1881.7,2631.8 C1882.5,2669.4 1883.0,2714.2 1884.0,2711.4 C1885.0,2708.6 1886.5,2652.8 1887.4,2615.2 C1888.4,2577.6 1888.6,2513.2 1889.7,2485.8 C1890.8,2458.4 1892.5,2458.2 1894.0,2451.0 C1895.5,2443.8 1897.7,2446.8 1899.0,2442.7 C1900.3,2438.5 1900.5,2425.5 1901.6,2426.1 C1902.7,2426.7 1904.4,2446.8 1905.6,2446.0 C1906.8,2445.2 1907.0,2427.7 1908.9,2421.1 C1910.8,2414.5 1913.9,2409.2 1917.2,2406.2 C1920.5,2403.2 1925.5,2402.9 1928.8,2402.9 C1932.1,2402.9 1934.3,2403.4 1937.1,2406.2 C1939.9,2408.9 1942.9,2415.0 1945.4,2419.4 C1947.9,2423.8 1949.9,2426.6 1952.1,2432.7 C1954.3,2438.8 1956.5,2450.7 1958.7,2455.9 C1960.9,2461.2 1962.0,2462.5 1965.3,2464.2 C1968.6,2465.9 1975.3,2464.5 1978.6,2465.9 C1981.9,2467.3 1983.0,2468.1 1985.2,2472.5 C1987.4,2476.9 1990.0,2484.1 1991.9,2492.4 C1993.9,2500.7 1995.0,2516.5 1996.9,2522.3 C1998.8,2528.1 2001.6,2528.4 2003.5,2527.3 C2005.4,2526.2 2006.8,2516.0 2008.5,2515.7 C2010.2,2515.4 2011.8,2525.6 2013.5,2525.6 C2015.2,2525.6 2016.8,2514.6 2018.4,2515.7 C2020.1,2516.8 2022.0,2531.2 2023.4,2532.3 C2024.8,2533.4 2025.9,2524.2 2026.7,2522.3 C2027.5,2520.4 2028.1,2520.9 2028.4,2520.6" stroke="#000000" stroke-width="9.5"/></g>
<text transform="translate(774.1,2449.29) rotate(90) scale(0.9373,1)" font-family="Liberation Serif, Times New Roman, serif" font-weight="normal" font-size="62">2919</text>
<text transform="translate(1359.4,2603.51) rotate(90) scale(0.8983,1)" font-family="Liberation Serif, Times New Roman, serif" font-weight="normal" font-size="62">1721</text>
<text transform="translate(1491.6,2411.62) rotate(90) scale(0.8966,1)" font-family="Liberation Serif, Times New Roman, serif" font-weight="normal" font-size="62">1453</text>
<text transform="translate(1490,2637.41) rotate(90) scale(0.9172,1)" font-family="Liberation Serif, Times New Roman, serif" font-weight="normal" font-size="62">1229</text>
<text transform="translate(1649.7,2598.46) rotate(90) scale(0.9482,1)" font-family="Liberation Serif, Times New Roman, serif" font-weight="normal" font-size="62">1149</text>
<text transform="translate(1734.7,2537.70) rotate(90) scale(0.9000,1)" font-family="Liberation Serif, Times New Roman, serif" font-weight="normal" font-size="62">1074</text>
<text transform="translate(1785.5,2674.42) rotate(90) scale(0.9453,1)" font-family="Liberation Serif, Times New Roman, serif" font-weight="normal" font-size="62">729</text>
<text transform="translate(1905,2675.40) rotate(90) scale(0.9345,1)" font-family="Liberation Serif, Times New Roman, serif" font-weight="normal" font-size="62">699</text>
<line x1="1542" y1="2658.8" x2="1595.8" y2="2610.1" stroke="#000" stroke-width="2.8"/><path d="M1614.8,2592.9 L1599.9,2617.6 L1588.7,2605.2 Z" fill="#000"/>
<line x1="1829.7" y1="2692.6" x2="1854.4" y2="2672.6" stroke="#000" stroke-width="2.8"/><path d="M1868.3,2661.3 L1858.0,2680.3 L1847.6,2667.5 Z" fill="#000"/>
<path d="M241,66.4 H258.5 M224,150.4 H258.5 M241,234.3 H258.5 M224,318.2 H258.5 M241,402.2 H258.5 M224,486.1 H258.5 M241,570.1 H258.5 M224,654.0 H258.5 M241,738.0 H258.5 M241,784.5 H258.5 M224,869.5 H258.5 M241,954.5 H258.5 M224,1039.5 H258.5 M241,1124.5 H258.5 M224,1209.5 H258.5 M241,1294.5 H258.5 M224,1379.5 H258.5 M241,1490.5 H258.5 M224,1574.8 H258.5 M241,1659.1 H258.5 M224,1743.4 H258.5 M241,1827.7 H258.5 M224,1912.0 H258.5 M241,1996.3 H258.5 M224,2080.6 H258.5 M224,2144.3 H258.5 M241,2228.8 H258.5 M224,2313.3 H258.5 M241,2397.8 H258.5 M224,2482.3 H258.5 M241,2566.8 H258.5 M224,2651.3 H258.5 M241,2735.8 H258.5 M1982.4,743.4 V776.8 M1982.4,1420.4 V1453.8 M1982.4,2097.4 V2130.8 M1982.4,2774.4 V2741.0 M1859.3,743.4 V760.9 M1859.3,1420.4 V1437.9 M1859.3,2097.4 V2114.9 M1859.3,2774.4 V2756.9 M1736.1,743.4 V776.8 M1736.1,1420.4 V1453.8 M1736.1,2097.4 V2130.8 M1736.1,2774.4 V2741.0 M1613.0,743.4 V760.9 M1613.0,1420.4 V1437.9 M1613.0,2097.4 V2114.9 M1613.0,2774.4 V2756.9 M1489.8,743.4 V776.8 M1489.8,1420.4 V1453.8 M1489.8,2097.4 V2130.8 M1489.8,2774.4 V2741.0 M1366.7,743.4 V760.9 M1366.7,1420.4 V1437.9 M1366.7,2097.4 V2114.9 M1366.7,2774.4 V2756.9 M1243.6,743.4 V776.8 M1243.6,1420.4 V1453.8 M1243.6,2097.4 V2130.8 M1243.6,2774.4 V2741.0 M1120.4,743.4 V760.9 M1120.4,1420.4 V1437.9 M1120.4,2097.4 V2114.9 M1120.4,2774.4 V2756.9 M997.3,743.4 V776.8 M997.3,1420.4 V1453.8 M997.3,2097.4 V2130.8 M997.3,2774.4 V2741.0 M874.2,743.4 V760.9 M874.2,1420.4 V1437.9 M874.2,2097.4 V2114.9 M874.2,2774.4 V2756.9 M751.0,743.4 V776.8 M751.0,1420.4 V1453.8 M751.0,2097.4 V2130.8 M751.0,2774.4 V2741.0 M627.9,743.4 V760.9 M627.9,1420.4 V1437.9 M627.9,2097.4 V2114.9 M627.9,2774.4 V2756.9 M504.8,743.4 V776.8 M504.8,1420.4 V1453.8 M504.8,2097.4 V2130.8 M504.8,2774.4 V2741.0 M381.6,743.4 V760.9 M381.6,1420.4 V1437.9 M381.6,2097.4 V2114.9 M381.6,2774.4 V2756.9" fill="none" stroke="#000" stroke-width="7"/>
<path d="M258.5,66.4 H2031.5 V2774.4 H258.5 Z M258.5,743.4 H2031.5 M258.5,1420.4 H2031.5 M258.5,2097.4 H2031.5" fill="none" stroke="#000" stroke-width="7" stroke-linejoin="miter" stroke-linecap="square"/>
<rect x="260.6" y="67.7" width="793.4" height="123.7" fill="#fdfdfd"/>
<path d="M259.3,191.4 H1054 V67.7" fill="none" stroke="#000" stroke-width="2.7" stroke-linejoin="miter"/>
<line x1="271" y1="128.5" x2="472" y2="128.5" stroke="#008080" stroke-width="9" stroke-linecap="round"/>
<text transform="translate(497.97,159.7) scale(0.9621,1)" font-family="Liberation Sans, Arial, sans-serif" font-weight="normal" font-size="94.5">UPR/ZnO600</text>
<rect x="260.6" y="744.7" width="793.4" height="124.8" fill="#fdfdfd"/>
<path d="M259.3,869.5 H1054 V744.7" fill="none" stroke="#000" stroke-width="2.7" stroke-linejoin="miter"/>
<line x1="271" y1="805.2" x2="472" y2="805.2" stroke="#0000ff" stroke-width="9" stroke-linecap="round"/>
<text transform="translate(497.97,836.7) scale(0.9621,1)" font-family="Liberation Sans, Arial, sans-serif" font-weight="normal" font-size="94.5">UPR/ZnO500</text>
<rect x="260.6" y="1421.7" width="793.4" height="124.7" fill="#fdfdfd"/>
<path d="M259.3,1546.4 H1054 V1421.7" fill="none" stroke="#000" stroke-width="2.7" stroke-linejoin="miter"/>
<line x1="271" y1="1484.6" x2="472" y2="1484.6" stroke="#ff0000" stroke-width="9" stroke-linecap="round"/>
<text transform="translate(497.97,1514.2) scale(0.9621,1)" font-family="Liberation Sans, Arial, sans-serif" font-weight="normal" font-size="94.5">UPR/ZnO400</text>
<rect x="260.6" y="2098.7" width="626.2" height="124.7" fill="#fdfdfd"/>
<path d="M259.3,2223.4 H886.8 V2098.7" fill="none" stroke="#000" stroke-width="2.7" stroke-linejoin="miter"/>
<line x1="271" y1="2160.7" x2="472" y2="2160.7" stroke="#000000" stroke-width="9" stroke-linecap="round"/>
<text transform="translate(497.38,2191.3) scale(0.9646,1)" font-family="Liberation Sans, Arial, sans-serif" font-weight="normal" font-size="94.5">Polyester</text>
<text transform="translate(1920.04,2869.7) scale(0.9693,1)" font-family="Liberation Sans, Arial, sans-serif" font-weight="bold" font-size="76.5">500</text>
<text transform="translate(1651.96,2869.7) scale(0.9693,1)" font-family="Liberation Sans, Arial, sans-serif" font-weight="bold" font-size="76.5">1000</text>
<text transform="translate(1405.69,2869.7) scale(0.9693,1)" font-family="Liberation Sans, Arial, sans-serif" font-weight="bold" font-size="76.5">1500</text>
<text transform="translate(1160.39,2869.7) scale(0.9693,1)" font-family="Liberation Sans, Arial, sans-serif" font-weight="bold" font-size="76.5">2000</text>
<text transform="translate(914.12,2869.7) scale(0.9693,1)" font-family="Liberation Sans, Arial, sans-serif" font-weight="bold" font-size="76.5">2500</text>
<text transform="translate(668.34,2869.7) scale(0.9693,1)" font-family="Liberation Sans, Arial, sans-serif" font-weight="bold" font-size="76.5">3000</text>
<text transform="translate(422.07,2869.7) scale(0.9693,1)" font-family="Liberation Sans, Arial, sans-serif" font-weight="bold" font-size="76.5">3500</text>
<text transform="translate(176.28,2869.7) scale(0.9693,1)" font-family="Liberation Sans, Arial, sans-serif" font-weight="bold" font-size="76.5">4000</text>
<text transform="translate(647.10,3042.8) scale(0.9575,1)" font-family="Liberation Sans, Arial, sans-serif" font-weight="bold" font-size="112.5">Wavenumber (cm</text>
<text transform="translate(1543.16,2998.6) scale(1.0474,1)" font-family="Liberation Sans, Arial, sans-serif" font-weight="bold" font-size="74.9">-</text>
<text transform="translate(1565.57,2998.6) scale(0.7857,1)" font-family="Liberation Sans, Arial, sans-serif" font-weight="bold" font-size="74.9">1</text>
<text transform="translate(1609.90,3042.8) scale(0.8187,1)" font-family="Liberation Sans, Arial, sans-serif" font-weight="bold" font-size="112.5">)</text>
<text transform="translate(114,1799.36) rotate(-90) scale(0.9649,1)" font-family="Liberation Sans, Arial, sans-serif" font-weight="bold" font-size="111.5">Transmitance (%)</text>
<text transform="translate(1027,3201) scale(0.953,1)" font-family="Liberation Serif, Times New Roman, serif" font-size="86">(<tspan font-weight="bold">a</tspan>)</text>
<svg x="447.8" y="3326.3" width="1428.4" height="1259.0999999999995" viewBox="447.8 3326.3 1428.4 1259.0999999999995" overflow="hidden"><g fill="none" stroke-linejoin="round" stroke-linecap="round"><path d="M651.1,4585.0 C651.9,4580.8 653.9,4567.3 656.1,4559.7 C658.3,4552.1 661.2,4546.5 664.2,4539.4 C667.2,4532.3 670.7,4524.5 674.4,4517.1 C678.1,4509.7 681.8,4501.9 686.5,4494.8 C691.2,4487.7 697.4,4480.2 702.8,4474.5 C708.2,4468.8 714.1,4465.0 719.0,4460.3 C723.9,4455.6 725.9,4449.3 732.4,4446.1 C738.9,4442.9 748.5,4441.4 757.9,4441.0 C767.2,4440.6 779.1,4443.9 788.5,4443.5 C797.9,4443.1 805.5,4441.4 814.0,4438.4 C822.5,4435.4 831.8,4431.2 839.4,4425.7 C847.0,4420.2 853.8,4411.7 859.8,4405.3 C865.8,4398.9 870.0,4396.9 875.1,4387.5 C880.2,4378.1 885.7,4359.8 890.4,4349.2 C895.1,4338.6 898.5,4329.6 903.2,4323.7 C907.9,4317.8 913.4,4314.9 918.5,4313.6 C923.6,4312.3 928.2,4316.5 933.7,4316.1 C939.2,4315.7 945.2,4314.4 951.6,4311.0 C958.0,4307.6 965.6,4300.2 972.0,4295.7 C978.4,4291.2 984.9,4287.4 990.0,4284.1 C995.1,4280.8 997.6,4277.2 1002.4,4275.8 C1007.2,4274.4 1013.5,4273.0 1019.0,4275.8 C1024.5,4278.6 1030.4,4284.8 1035.6,4292.4 C1040.8,4300.0 1045.6,4310.4 1050.1,4321.5 C1054.6,4332.6 1058.4,4347.1 1062.6,4358.8 C1066.8,4370.6 1070.5,4383.0 1075.0,4392.0 C1079.5,4401.0 1085.0,4409.2 1089.5,4412.7 C1094.0,4416.1 1097.5,4415.8 1102.0,4412.7 C1106.5,4409.6 1112.0,4403.0 1116.5,4394.0 C1121.0,4385.0 1124.4,4370.9 1128.9,4358.8 C1133.4,4346.7 1138.3,4332.6 1143.5,4321.5 C1148.7,4310.4 1154.6,4300.7 1160.1,4292.4 C1165.6,4284.1 1170.4,4277.9 1176.6,4271.7 C1182.8,4265.5 1188.4,4259.9 1197.4,4255.1 C1206.4,4250.3 1220.9,4245.3 1230.6,4242.7 C1240.3,4240.1 1247.1,4240.7 1255.4,4239.3 C1263.7,4237.9 1271.3,4237.6 1280.3,4234.4 C1289.3,4231.2 1299.0,4224.0 1309.4,4219.9 C1319.8,4215.8 1332.8,4211.9 1342.5,4209.5 C1352.2,4207.1 1359.1,4207.7 1367.4,4205.3 C1375.7,4202.9 1385.4,4198.4 1392.3,4195.0 C1399.2,4191.6 1402.6,4187.1 1408.9,4184.6 C1415.2,4182.1 1419.6,4182.5 1430.0,4180.0 C1440.4,4177.5 1457.7,4170.3 1471.5,4169.6 C1485.3,4168.9 1499.2,4174.6 1513.0,4175.8 C1526.8,4177.0 1541.6,4175.7 1554.4,4176.7 C1567.2,4177.7 1578.6,4182.8 1589.7,4182.0 C1600.8,4181.2 1611.5,4175.5 1620.8,4171.7 C1630.1,4167.9 1635.3,4162.8 1645.7,4159.2 C1656.1,4155.6 1667.8,4151.6 1683.0,4150.1 C1698.2,4148.6 1724.5,4149.5 1736.9,4150.1 C1749.4,4150.7 1748.0,4153.3 1757.7,4153.9 C1767.4,4154.5 1782.2,4154.2 1795.0,4153.9 C1807.8,4153.5 1826.1,4151.5 1834.4,4151.8 C1842.7,4152.1 1837.9,4154.5 1844.8,4155.9 C1851.7,4157.3 1870.7,4159.4 1875.9,4160.1" stroke="#000000" stroke-width="5"/>
<path d="M528.0,4585.0 C529.1,4576.4 532.4,4550.4 534.5,4533.3 C536.6,4516.2 538.2,4499.5 540.6,4482.6 C543.0,4465.7 546.4,4446.1 548.7,4431.9 C551.1,4417.7 552.3,4407.6 554.7,4397.5 C557.1,4387.4 560.2,4380.6 562.9,4371.1 C565.6,4361.6 568.0,4350.5 571.0,4340.7 C574.0,4330.9 578.4,4319.1 581.1,4312.3 C583.8,4305.5 584.8,4305.4 587.2,4300.0 C589.6,4294.6 592.6,4286.6 595.3,4279.8 C598.0,4273.1 600.4,4266.2 603.4,4259.5 C606.4,4252.8 610.1,4246.1 613.5,4239.3 C616.9,4232.6 620.7,4224.8 623.7,4219.0 C626.8,4213.2 629.1,4209.2 631.8,4204.8 C634.5,4200.4 636.5,4195.1 639.9,4192.6 C643.3,4190.1 648.7,4190.4 652.1,4189.6 C655.5,4188.8 657.5,4189.3 660.2,4187.6 C662.9,4185.9 664.6,4184.0 668.3,4179.4 C672.0,4174.8 678.1,4165.1 682.5,4160.2 C686.9,4155.3 690.9,4153.1 694.6,4150.0 C698.3,4146.9 700.6,4144.4 704.8,4141.9 C709.0,4139.4 712.9,4135.1 720.0,4134.8 C727.1,4134.5 739.3,4141.1 747.7,4140.3 C756.1,4139.5 763.4,4130.5 770.6,4130.1 C777.8,4129.7 785.0,4138.1 791.0,4137.7 C797.0,4137.3 800.8,4130.9 806.3,4127.5 C811.8,4124.1 819.1,4119.4 824.2,4117.3 C829.3,4115.2 831.9,4118.6 837.0,4114.8 C842.1,4111.0 848.8,4102.1 854.7,4094.4 C860.6,4086.8 867.5,4076.6 872.6,4068.9 C877.7,4061.2 882.3,4050.2 885.3,4048.5 C888.3,4046.8 888.7,4044.2 890.4,4058.7 C892.1,4073.1 894.0,4109.7 895.5,4135.2 C897.0,4160.7 898.1,4190.4 899.6,4211.6 C901.1,4232.8 902.8,4258.4 904.7,4262.6 C906.6,4266.9 908.5,4254.1 910.8,4237.1 C913.1,4220.1 916.0,4181.8 918.5,4160.6 C921.0,4139.4 923.1,4124.1 926.1,4109.7 C929.1,4095.3 932.5,4082.5 936.3,4074.0 C940.1,4065.5 943.9,4062.5 949.0,4058.7 C954.1,4054.9 961.4,4053.6 966.9,4051.1 C972.4,4048.6 978.4,4045.0 982.2,4043.4 C986.1,4041.8 985.9,4043.6 990.0,4041.5 C994.1,4039.4 1001.1,4032.1 1006.6,4031.1 C1012.1,4030.1 1017.7,4034.2 1023.2,4035.3 C1028.7,4036.4 1035.3,4035.3 1039.8,4037.4 C1044.3,4039.5 1046.3,4042.5 1050.1,4047.7 C1053.9,4052.9 1058.4,4063.0 1062.6,4068.5 C1066.8,4074.0 1070.8,4076.4 1075.0,4080.9 C1079.2,4085.4 1083.3,4092.3 1087.5,4095.4 C1091.7,4098.5 1095.4,4100.6 1099.9,4099.6 C1104.4,4098.6 1110.2,4093.7 1114.4,4089.2 C1118.6,4084.7 1121.0,4079.2 1124.8,4072.6 C1128.6,4066.0 1133.0,4054.6 1137.2,4049.8 C1141.4,4045.0 1144.9,4046.7 1149.7,4043.6 C1154.5,4040.5 1161.1,4034.4 1166.3,4031.1 C1171.5,4027.8 1176.3,4024.7 1180.8,4023.7 C1185.3,4022.7 1188.4,4023.7 1193.2,4024.9 C1198.0,4026.1 1203.6,4031.1 1209.8,4031.1 C1216.0,4031.1 1222.3,4025.6 1230.6,4024.9 C1238.9,4024.2 1252.7,4028.0 1259.6,4027.0 C1266.5,4026.0 1267.2,4022.3 1272.0,4018.7 C1276.8,4015.1 1282.0,4006.1 1288.6,4005.4 C1295.2,4004.7 1303.1,4014.5 1311.4,4014.5 C1319.7,4014.5 1331.5,4006.4 1338.4,4005.4 C1345.3,4004.4 1347.4,4006.4 1352.9,4008.3 C1358.4,4010.2 1364.3,4015.9 1371.6,4016.6 C1378.9,4017.3 1389.6,4015.9 1396.5,4012.5 C1403.4,4009.1 1408.3,3999.6 1413.1,3995.9 C1417.9,3992.2 1419.9,3990.1 1425.5,3990.5 C1431.1,3990.9 1436.9,3997.0 1446.6,3998.3 C1456.3,3999.6 1472.8,3997.4 1483.9,3998.3 C1495.0,3999.2 1506.1,4001.9 1513.0,4003.7 C1519.9,4005.5 1517.1,4009.8 1525.4,4009.1 C1533.7,4008.4 1552.0,3999.5 1562.7,3999.6 C1573.4,3999.7 1578.6,4010.2 1589.7,4009.9 C1600.8,4009.6 1617.0,4000.4 1629.1,3997.5 C1641.2,3994.6 1650.5,3993.3 1662.3,3992.5 C1674.0,3991.7 1689.2,3990.3 1699.6,3992.5 C1710.0,3994.7 1714.8,4006.0 1724.5,4005.8 C1734.2,4005.6 1747.3,3993.7 1757.7,3991.3 C1768.1,3988.9 1778.1,3992.1 1786.7,3991.3 C1795.3,3990.5 1803.3,3986.1 1809.5,3986.3 C1815.7,3986.5 1816.0,3991.5 1824.0,3992.5 C1832.0,3993.5 1848.5,3991.8 1857.2,3992.5 C1865.9,3993.2 1872.8,3996.0 1875.9,3996.7" stroke="#ff0000" stroke-width="5"/>
<path d="M570.0,4585.0 C570.8,4576.4 573.1,4550.4 575.0,4533.3 C576.9,4516.2 579.1,4499.5 581.1,4482.6 C583.1,4465.7 585.2,4447.1 587.2,4431.9 C589.2,4416.7 591.3,4404.9 593.3,4391.4 C595.3,4377.9 597.4,4362.6 599.4,4350.8 C601.4,4339.0 603.5,4328.9 605.4,4320.4 C607.2,4311.9 608.8,4307.8 610.5,4300.0 C612.2,4292.2 613.7,4283.1 615.6,4273.7 C617.5,4264.2 619.7,4253.1 621.7,4243.3 C623.7,4233.5 625.7,4224.4 627.7,4214.9 C629.7,4205.4 631.8,4194.9 633.8,4186.5 C635.8,4178.1 637.2,4172.3 639.9,4164.2 C642.6,4156.1 646.6,4146.0 650.0,4137.9 C653.4,4129.8 657.2,4122.7 660.2,4115.6 C663.2,4108.5 665.3,4102.1 668.3,4095.3 C671.3,4088.5 674.7,4082.1 678.4,4075.0 C682.1,4067.9 686.5,4058.8 690.6,4052.7 C694.7,4046.6 697.9,4043.6 702.8,4038.5 C707.7,4033.4 714.1,4028.1 720.0,4021.9 C725.9,4015.7 733.3,4005.2 738.0,4001.3 C742.7,3997.5 744.5,4001.0 748.4,3998.8 C752.3,3996.7 757.4,3990.6 761.3,3988.4 C765.2,3986.2 768.1,3985.8 771.6,3985.8 C775.1,3985.8 779.0,3987.5 782.0,3988.4 C785.0,3989.3 787.1,3991.4 789.7,3991.0 C792.3,3990.6 794.0,3989.0 797.4,3985.8 C800.8,3982.6 806.0,3976.1 810.3,3971.6 C814.6,3967.1 818.9,3963.2 823.2,3958.7 C827.5,3954.2 832.2,3949.9 836.1,3944.5 C840.0,3939.1 843.5,3933.4 846.5,3926.5 C849.5,3919.6 851.6,3910.5 854.2,3903.2 C856.8,3895.9 859.4,3889.0 862.0,3882.6 C864.6,3876.2 867.6,3869.7 869.7,3864.5 C871.8,3859.3 872.6,3854.4 874.8,3851.6 C876.9,3848.8 880.2,3848.5 882.6,3847.7 C885.0,3846.8 887.3,3844.6 889.0,3846.5 C890.7,3848.4 891.8,3850.0 892.9,3859.4 C894.0,3868.8 894.4,3889.4 895.5,3903.2 C896.6,3917.0 898.3,3929.1 899.4,3942.0 C900.5,3954.9 901.3,3967.8 902.0,3980.7 C902.7,3993.6 902.9,4016.0 903.8,4019.4 C904.7,4022.8 905.8,4009.9 907.2,4001.3 C908.6,3992.7 910.8,3977.6 912.3,3967.7 C913.8,3957.8 915.1,3950.6 916.2,3942.0 C917.3,3933.4 917.7,3924.8 918.8,3916.2 C919.9,3907.6 921.4,3897.7 922.7,3890.4 C924.0,3883.1 925.0,3878.3 926.5,3872.3 C928.0,3866.3 929.6,3859.8 931.7,3854.2 C933.9,3848.6 936.8,3843.4 939.4,3838.7 C942.0,3834.0 943.7,3830.1 947.1,3825.8 C950.5,3821.5 955.7,3817.0 960.0,3812.9 C964.3,3808.8 969.3,3805.1 973.0,3801.3 C976.7,3797.5 979.4,3792.5 982.2,3790.0 C985.0,3787.5 985.9,3788.0 990.0,3786.4 C994.1,3784.8 1000.4,3781.2 1006.6,3780.2 C1012.8,3779.2 1021.8,3778.5 1027.3,3780.2 C1032.8,3781.9 1035.6,3784.0 1039.8,3790.6 C1044.0,3797.2 1048.0,3807.8 1052.2,3819.6 C1056.4,3831.3 1060.6,3848.0 1064.7,3861.1 C1068.8,3874.2 1071.6,3888.0 1077.1,3898.4 C1082.6,3908.8 1091.6,3924.0 1097.8,3923.3 C1104.0,3922.6 1109.6,3904.7 1114.4,3894.3 C1119.2,3883.9 1123.4,3872.2 1126.9,3861.1 C1130.4,3850.0 1131.8,3839.0 1135.2,3827.9 C1138.7,3816.8 1142.8,3804.0 1147.6,3794.7 C1152.4,3785.4 1158.7,3776.9 1164.2,3771.9 C1169.7,3766.9 1173.2,3766.1 1180.8,3764.9 C1188.4,3763.7 1201.5,3767.1 1209.8,3764.9 C1218.1,3762.8 1224.4,3754.2 1230.6,3752.0 C1236.8,3749.8 1242.7,3751.4 1247.2,3752.0 C1251.7,3752.6 1253.4,3756.8 1257.5,3755.3 C1261.6,3753.8 1266.8,3747.5 1272.0,3742.9 C1277.2,3738.3 1281.7,3730.6 1288.6,3727.5 C1295.5,3724.4 1304.2,3726.5 1313.5,3724.2 C1322.8,3721.9 1335.6,3713.2 1344.6,3713.8 C1353.6,3714.4 1360.8,3725.4 1367.4,3727.5 C1374.0,3729.6 1378.5,3728.2 1384.0,3726.3 C1389.5,3724.4 1395.1,3720.8 1400.6,3715.9 C1406.1,3711.1 1412.3,3700.6 1417.2,3697.2 C1422.1,3693.8 1424.1,3694.6 1429.7,3695.2 C1435.3,3695.8 1442.4,3703.5 1450.7,3700.9 C1459.0,3698.3 1471.2,3681.5 1479.8,3679.4 C1488.4,3677.3 1495.0,3684.9 1502.6,3688.5 C1510.2,3692.1 1519.2,3699.5 1525.4,3700.9 C1531.6,3702.3 1533.7,3695.4 1539.9,3696.8 C1546.1,3698.2 1554.1,3708.0 1562.7,3709.2 C1571.3,3710.4 1582.5,3707.8 1591.8,3703.8 C1601.1,3699.8 1610.4,3686.3 1618.7,3685.2 C1627.0,3684.1 1633.5,3696.8 1641.5,3697.2 C1649.5,3697.6 1657.4,3689.3 1666.4,3687.7 C1675.4,3686.1 1685.7,3685.1 1695.4,3687.7 C1705.1,3690.2 1716.2,3702.9 1724.5,3703.0 C1732.8,3703.1 1738.0,3692.5 1745.2,3688.5 C1752.5,3684.5 1761.1,3679.9 1768.0,3679.0 C1774.9,3678.1 1779.4,3683.0 1786.7,3683.1 C1794.0,3683.2 1804.0,3677.5 1811.6,3679.4 C1819.2,3681.3 1825.4,3691.3 1832.3,3694.7 C1839.2,3698.1 1845.8,3700.9 1853.1,3699.7 C1860.4,3698.4 1872.1,3689.3 1875.9,3687.2" stroke="#0000ff" stroke-width="5"/>
<path d="M507.7,4585.0 C508.4,4576.4 510.5,4552.1 512.2,4533.3 C514.0,4514.6 516.2,4492.8 518.2,4472.5 C520.2,4452.2 522.3,4432.0 524.3,4411.7 C526.3,4391.4 528.5,4369.4 530.4,4350.8 C532.3,4332.2 534.0,4316.2 535.5,4300.0 C537.0,4283.8 538.1,4269.6 539.5,4253.4 C540.9,4237.2 542.1,4219.7 543.6,4202.8 C545.1,4185.9 546.9,4167.3 548.7,4152.1 C550.6,4136.9 552.7,4125.0 554.7,4111.5 C556.7,4098.0 558.8,4083.8 560.8,4071.0 C562.8,4058.2 564.5,4046.3 566.9,4034.5 C569.3,4022.7 572.6,4011.8 575.2,4000.0 C577.8,3988.2 580.1,3974.7 582.3,3963.6 C584.5,3952.5 586.2,3943.3 588.4,3933.2 C590.6,3923.1 593.1,3911.9 595.5,3902.8 C597.9,3893.7 599.9,3886.2 602.6,3878.4 C605.3,3870.6 608.7,3862.8 611.7,3856.1 C614.7,3849.3 617.6,3844.0 620.8,3837.9 C624.0,3831.8 628.1,3826.0 631.0,3819.6 C633.9,3813.2 635.7,3804.8 638.1,3799.4 C640.5,3794.0 642.7,3790.8 645.2,3787.2 C647.7,3783.6 649.6,3781.8 653.3,3778.1 C657.0,3774.4 662.8,3769.5 667.5,3764.9 C672.2,3760.3 677.7,3755.4 681.7,3750.7 C685.8,3746.0 688.8,3741.2 691.8,3736.5 C694.8,3731.8 697.2,3726.5 699.9,3722.3 C702.6,3718.1 705.0,3713.9 708.0,3711.2 C711.0,3708.5 715.2,3706.9 718.2,3706.1 C721.2,3705.2 723.3,3705.2 726.3,3706.1 C729.3,3706.9 733.0,3709.7 736.4,3711.2 C739.8,3712.7 742.5,3716.4 746.5,3715.2 C750.5,3714.0 756.3,3706.3 760.7,3704.1 C765.1,3701.9 767.9,3701.2 772.9,3702.0 C777.9,3702.8 784.6,3710.3 791.0,3708.6 C797.4,3706.9 805.4,3695.4 811.4,3691.7 C817.4,3688.0 821.9,3688.5 826.7,3686.6 C831.5,3684.7 836.5,3683.6 840.0,3680.4 C843.5,3677.2 845.2,3672.1 847.4,3667.5 C849.5,3662.9 851.1,3657.3 852.9,3652.7 C854.7,3648.1 856.5,3642.9 858.4,3639.8 C860.2,3636.7 861.4,3636.9 864.0,3634.3 C866.6,3631.7 871.3,3624.9 874.1,3624.1 C876.9,3623.3 878.2,3627.1 880.6,3629.7 C883.0,3632.3 887.1,3636.0 888.8,3639.8 C890.5,3643.6 889.9,3646.5 890.7,3652.7 C891.5,3658.8 892.7,3669.0 893.5,3676.7 C894.3,3684.4 894.5,3686.1 895.3,3698.8 C896.1,3711.5 896.6,3728.6 898.1,3752.9 C899.6,3777.2 902.1,3842.9 904.2,3844.6 C906.3,3846.3 908.9,3783.9 910.8,3763.1 C912.7,3742.3 914.5,3730.7 915.6,3720.0 C916.7,3709.3 916.8,3706.6 917.4,3698.8 C918.0,3691.0 918.7,3680.7 919.3,3673.0 C919.9,3665.3 920.3,3659.1 921.1,3652.7 C921.9,3646.2 922.7,3638.6 923.9,3634.3 C925.1,3630.0 926.7,3630.0 928.5,3626.9 C930.3,3623.8 932.8,3619.1 934.9,3615.9 C937.0,3612.7 938.8,3610.7 941.4,3607.6 C944.0,3604.5 947.8,3599.9 950.6,3597.4 C953.4,3594.9 954.9,3595.2 958.0,3592.8 C961.1,3590.4 966.2,3586.2 969.0,3582.7 C971.8,3579.2 972.1,3575.1 974.6,3571.6 C977.1,3568.1 981.0,3564.4 983.8,3561.5 C986.6,3558.6 988.4,3555.9 991.2,3554.1 C994.0,3552.2 995.5,3551.0 1000.4,3550.4 C1005.3,3549.8 1015.4,3548.6 1020.6,3550.4 C1025.8,3552.2 1028.5,3556.7 1031.7,3561.5 C1034.9,3566.3 1037.3,3574.0 1040.0,3579.0 C1042.7,3584.0 1044.0,3583.2 1048.1,3591.5 C1052.2,3599.8 1059.2,3617.8 1064.7,3628.8 C1070.2,3639.9 1075.8,3650.2 1081.2,3657.8 C1086.6,3665.4 1091.5,3675.1 1097.0,3674.4 C1102.5,3673.7 1108.7,3663.4 1114.4,3653.7 C1120.1,3644.0 1125.5,3627.5 1131.0,3616.4 C1136.5,3605.3 1141.4,3597.0 1147.6,3587.3 C1153.8,3577.6 1161.4,3563.5 1168.3,3558.3 C1175.2,3553.1 1182.0,3558.2 1189.1,3556.2 C1196.2,3554.2 1204.4,3548.9 1210.8,3546.1 C1217.2,3543.3 1222.3,3539.2 1227.4,3539.2 C1232.5,3539.2 1235.7,3544.1 1241.2,3546.1 C1246.7,3548.1 1255.1,3551.8 1260.6,3551.1 C1266.1,3550.4 1269.3,3545.5 1274.4,3542.0 C1279.5,3538.5 1285.5,3532.9 1291.0,3530.1 C1296.5,3527.3 1301.6,3528.5 1307.6,3525.4 C1313.6,3522.3 1320.5,3515.0 1326.9,3511.6 C1333.4,3508.2 1339.8,3505.0 1346.3,3505.2 C1352.8,3505.4 1360.5,3511.5 1365.6,3512.9 C1370.7,3514.3 1372.5,3512.7 1376.7,3513.8 C1380.9,3514.9 1385.9,3518.5 1390.5,3519.3 C1395.1,3520.1 1399.6,3521.6 1404.4,3518.5 C1409.2,3515.4 1415.2,3504.6 1419.6,3500.5 C1424.0,3496.4 1426.1,3494.4 1430.6,3494.1 C1435.1,3493.8 1439.1,3502.2 1446.6,3498.9 C1454.1,3495.6 1465.9,3475.7 1475.6,3474.1 C1485.3,3472.5 1497.4,3485.9 1504.7,3489.4 C1512.0,3492.9 1512.6,3496.2 1519.2,3494.8 C1525.8,3493.4 1535.8,3482.3 1544.1,3481.1 C1552.4,3479.8 1561.0,3486.8 1568.9,3487.3 C1576.9,3487.8 1585.9,3485.7 1591.8,3484.0 C1597.7,3482.3 1598.3,3479.8 1604.2,3477.0 C1610.1,3474.2 1618.0,3469.3 1627.0,3467.4 C1636.0,3465.5 1649.1,3465.8 1658.1,3465.8 C1667.1,3465.8 1674.0,3468.7 1680.9,3467.4 C1687.8,3466.2 1692.0,3457.1 1699.6,3458.3 C1707.2,3459.6 1718.0,3473.7 1726.6,3474.9 C1735.2,3476.2 1743.5,3466.8 1751.4,3465.8 C1759.4,3464.8 1766.3,3470.1 1774.3,3468.7 C1782.2,3467.3 1789.8,3455.8 1799.1,3457.5 C1808.4,3459.2 1822.0,3477.3 1830.3,3479.0 C1838.6,3480.7 1841.3,3470.2 1848.9,3467.4 C1856.5,3464.6 1871.4,3463.2 1875.9,3462.4" stroke="#008080" stroke-width="5"/></g></svg>
<path d="M447.8,3326.3 H1876.2 V4585.4 H447.8 Z" fill="none" stroke="#000" stroke-width="5.4" stroke-linecap="square"/>
<path d="M432.6,3326.3 H447.8 M421,3440.8 H447.8 M432.6,3555.2 H447.8 M421,3669.7 H447.8 M432.6,3784.1 H447.8 M421,3898.6 H447.8 M432.6,4013.1 H447.8 M421,4127.5 H447.8 M432.6,4242.0 H447.8 M421,4356.4 H447.8 M432.6,4470.9 H447.8 M421,4585.4 H447.8 M447.8,4585.4 V4610.4 M804.9,4585.4 V4596.4 M1161.9,4585.4 V4610.4 M1519.0,4585.4 V4596.4 M1876.0,4585.4 V4610.4" fill="none" stroke="#000" stroke-width="5.4"/>
<text transform="translate(396.49,4672.1) scale(1.0043,1)" font-family="Liberation Sans, Arial, sans-serif" font-weight="bold" font-size="59">700</text>
<text transform="translate(1110.59,4672.1) scale(1.0043,1)" font-family="Liberation Sans, Arial, sans-serif" font-weight="bold" font-size="59">650</text>
<text transform="translate(1824.69,4672.1) scale(1.0043,1)" font-family="Liberation Sans, Arial, sans-serif" font-weight="bold" font-size="59">600</text>
<text transform="translate(817.30,4774.1) scale(0.9777,1)" font-family="Liberation Sans, Arial, sans-serif" font-weight="bold" font-size="75.6">Wavenumber (cm</text>
<text transform="translate(1430.32,4738) scale(1.1417,1)" font-family="Liberation Sans, Arial, sans-serif" font-weight="bold" font-size="48.8">-</text>
<text transform="translate(1447.99,4738) scale(0.7696,1)" font-family="Liberation Sans, Arial, sans-serif" font-weight="bold" font-size="48.8">1</text>
<text transform="translate(1478.00,4774.1) scale(0.8429,1)" font-family="Liberation Sans, Arial, sans-serif" font-weight="bold" font-size="75.6">)</text>
<text transform="translate(321.9,4123.62) rotate(-90) scale(0.9179,1)" font-family="Liberation Sans, Arial, sans-serif" font-weight="bold" font-size="74.9">Transmitance (%)</text>
<line x1="462" y1="3363.5" x2="581.5" y2="3363.5" stroke="#000000" stroke-width="5.5" stroke-linecap="round"/>
<text transform="translate(594.37,3380.8) scale(0.9829,1)" font-family="Liberation Sans, Arial, sans-serif" font-weight="normal" font-size="53">UPR</text>
<line x1="462" y1="3427" x2="581.5" y2="3427" stroke="#ff0000" stroke-width="5.5" stroke-linecap="round"/>
<text transform="translate(594.40,3444.3) scale(0.9756,1)" font-family="Liberation Sans, Arial, sans-serif" font-weight="normal" font-size="53">UPR/ZnO400</text>
<line x1="462" y1="3493.5" x2="581.5" y2="3493.5" stroke="#0000ff" stroke-width="5.5" stroke-linecap="round"/>
<text transform="translate(594.40,3510.8) scale(0.9756,1)" font-family="Liberation Sans, Arial, sans-serif" font-weight="normal" font-size="53">UPR/ZnO500</text>
<line x1="462" y1="3559.3" x2="581.5" y2="3559.3" stroke="#008080" stroke-width="5.5" stroke-linecap="round"/>
<text transform="translate(594.40,3576.6) scale(0.9756,1)" font-family="Liberation Sans, Arial, sans-serif" font-weight="normal" font-size="53">UPR/ZnO600</text>
<text x="1022" y="4942" font-family="Liberation Serif, Times New Roman, serif" font-size="86">(<tspan font-weight="bold">b</tspan>)</text>
</svg></body></html>
